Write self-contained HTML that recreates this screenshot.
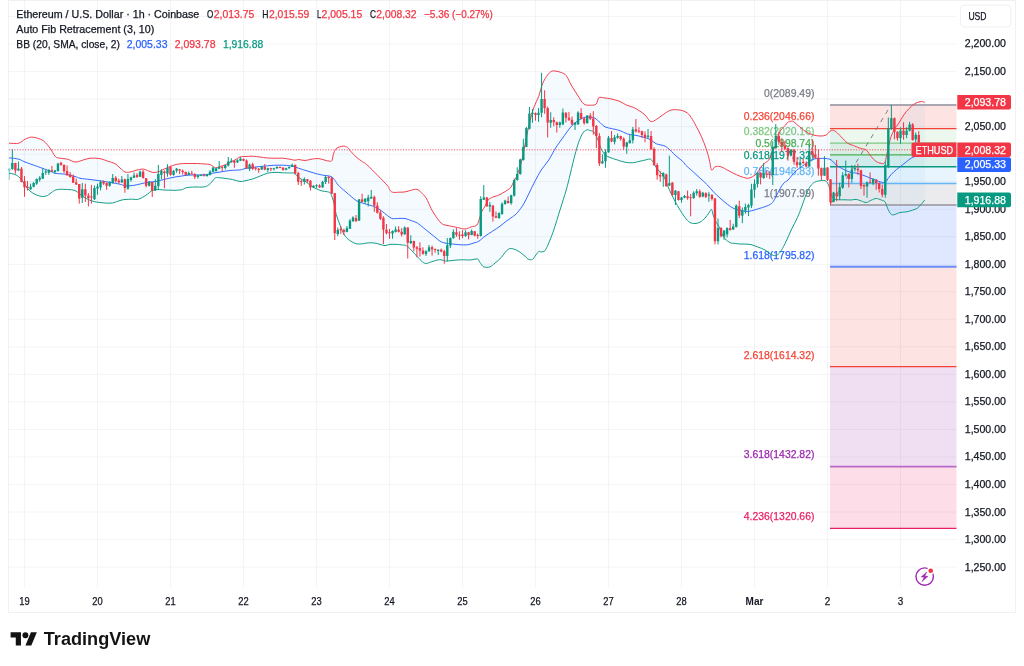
<!DOCTYPE html>
<html><head><meta charset="utf-8"><title>ETHUSD chart</title>
<style>
html,body{margin:0;padding:0;background:#fff;}
body{width:1024px;height:666px;overflow:hidden;position:relative;font-family:"Liberation Sans",sans-serif;}
svg text{font-family:"Liberation Sans",sans-serif;}
svg{will-change:transform;transform:translateZ(0);}
</style></head><body>
<svg width="1024" height="666" viewBox="0 0 1024 666" style="position:absolute;left:0;top:0;font-family:'Liberation Sans',sans-serif">
<rect x="8.5" y="0.5" width="1007" height="612" fill="none" stroke="#F0F1F3" stroke-width="1"/>
<g stroke="#F3F4F6" stroke-width="1"><line x1="24.5" y1="1" x2="24.5" y2="587.5"/><line x1="97.5" y1="1" x2="97.5" y2="587.5"/><line x1="170.5" y1="1" x2="170.5" y2="587.5"/><line x1="243.5" y1="1" x2="243.5" y2="587.5"/><line x1="316.5" y1="1" x2="316.5" y2="587.5"/><line x1="389.5" y1="1" x2="389.5" y2="587.5"/><line x1="462.5" y1="1" x2="462.5" y2="587.5"/><line x1="535.5" y1="1" x2="535.5" y2="587.5"/><line x1="608.5" y1="1" x2="608.5" y2="587.5"/><line x1="681.5" y1="1" x2="681.5" y2="587.5"/><line x1="754.5" y1="1" x2="754.5" y2="587.5"/><line x1="827.5" y1="1" x2="827.5" y2="587.5"/><line x1="900.5" y1="1" x2="900.5" y2="587.5"/><line x1="9" y1="16.46" x2="956.5" y2="16.46"/><line x1="9" y1="44.00" x2="956.5" y2="44.00"/><line x1="9" y1="71.53" x2="956.5" y2="71.53"/><line x1="9" y1="99.06" x2="956.5" y2="99.06"/><line x1="9" y1="126.60" x2="956.5" y2="126.60"/><line x1="9" y1="154.14" x2="956.5" y2="154.14"/><line x1="9" y1="181.67" x2="956.5" y2="181.67"/><line x1="9" y1="209.21" x2="956.5" y2="209.21"/><line x1="9" y1="236.74" x2="956.5" y2="236.74"/><line x1="9" y1="264.27" x2="956.5" y2="264.27"/><line x1="9" y1="291.81" x2="956.5" y2="291.81"/><line x1="9" y1="319.34" x2="956.5" y2="319.34"/><line x1="9" y1="346.88" x2="956.5" y2="346.88"/><line x1="9" y1="374.41" x2="956.5" y2="374.41"/><line x1="9" y1="401.95" x2="956.5" y2="401.95"/><line x1="9" y1="429.48" x2="956.5" y2="429.48"/><line x1="9" y1="457.02" x2="956.5" y2="457.02"/><line x1="9" y1="484.56" x2="956.5" y2="484.56"/><line x1="9" y1="512.09" x2="956.5" y2="512.09"/><line x1="9" y1="539.62" x2="956.5" y2="539.62"/><line x1="9" y1="567.16" x2="956.5" y2="567.16"/></g>
<rect x="830.0" y="104.86" width="126.5" height="23.59" fill="#F44336" fill-opacity="0.15"/>
<rect x="830.0" y="128.44" width="126.5" height="14.59" fill="#81C784" fill-opacity="0.15"/>
<rect x="830.0" y="143.04" width="126.5" height="11.80" fill="#4CAF50" fill-opacity="0.15"/>
<rect x="830.0" y="154.83" width="126.5" height="11.80" fill="#089981" fill-opacity="0.15"/>
<rect x="830.0" y="166.63" width="126.5" height="16.79" fill="#64B5F6" fill-opacity="0.15"/>
<rect x="830.0" y="183.42" width="126.5" height="21.39" fill="#787B86" fill-opacity="0.15"/>
<rect x="830.0" y="204.81" width="126.5" height="61.77" fill="#2962FF" fill-opacity="0.15"/>
<rect x="830.0" y="266.58" width="126.5" height="99.95" fill="#F44336" fill-opacity="0.15"/>
<rect x="830.0" y="366.53" width="126.5" height="99.95" fill="#9C27B0" fill-opacity="0.15"/>
<rect x="830.0" y="466.49" width="126.5" height="61.77" fill="#E91E63" fill-opacity="0.15"/>
<path d="M9.0 143.2 L18.8 143.2 L25.0 139.2 L31.2 137.1 L37.5 138.2 L43.8 141.1 L50.0 148.0 L55.0 156.1 L58.8 158.0 L67.5 159.2 L75.0 162.0 L82.5 160.2 L90.0 158.2 L100.0 158.6 L107.5 161.1 L115.0 163.6 L120.0 168.0 L125.0 172.0 L130.0 172.0 L136.2 170.2 L142.5 169.0 L147.5 170.5 L152.5 172.4 L157.5 172.0 L162.5 169.9 L170.0 166.5 L176.2 164.5 L182.5 163.6 L190.0 163.5 L197.5 163.5 L205.0 164.0 L210.0 164.5 L213.1 166.5 L215.6 167.8 L220.0 166.5 L225.0 164.9 L230.0 162.4 L235.0 159.9 L240.0 157.0 L245.0 156.5 L252.5 156.2 L260.0 157.0 L267.5 158.0 L275.0 158.2 L282.5 158.2 L290.0 159.2 L295.0 160.2 L298.8 159.5 L305.0 160.5 L312.5 159.0 L318.8 158.6 L325.0 160.2 L329.4 161.1 L331.9 160.5 L333.8 153.0 L336.2 148.6 L340.0 146.8 L343.8 146.1 L347.5 147.4 L351.2 151.8 L356.2 157.0 L362.5 161.8 L368.0 165.8 L386.9 185.0 L389.4 189.4 L392.5 192.2 L398.8 192.2 L405.0 191.9 L411.2 190.2 L416.9 189.4 L421.2 192.5 L426.2 198.1 L431.2 208.8 L436.2 216.9 L441.2 223.1 L445.0 225.0 L451.2 226.2 L457.5 227.5 L465.0 229.0 L471.2 226.9 L476.9 225.0 L479.4 218.8 L481.9 211.2 L485.0 206.2 L488.1 200.0 L492.5 197.2 L497.5 195.6 L502.5 193.1 L507.5 190.0 L511.2 186.9 L513.8 181.2 L516.9 176.2 L519.4 168.8 L521.9 160.0 L526.9 135.0 L530.0 121.2 L533.8 107.5 L538.8 96.2 L542.5 83.8 L547.5 75.0 L551.2 71.5 L555.0 71.0 L561.2 72.5 L566.2 75.6 L571.2 85.0 L577.5 95.0 L583.8 104.0 L591.2 105.2 L596.2 104.0 L598.8 97.8 L603.8 97.8 L611.2 99.0 L620.0 101.5 L626.2 105.0 L633.8 107.5 L640.0 111.2 L645.0 115.0 L650.0 121.0 L653.8 121.0 L660.0 116.9 L666.2 112.5 L671.2 110.0 L677.5 109.8 L682.5 110.6 L687.5 113.1 L691.2 117.5 L696.2 126.2 L701.2 136.2 L706.2 148.8 L709.4 160.0 L711.5 170.0 L715.0 166.9 L720.0 166.5 L726.2 169.4 L732.5 172.8 L740.0 176.2 L746.2 178.1 L750.0 177.8 L755.0 175.0 L758.8 170.6 L762.5 165.0 L768.8 160.0 L771.9 153.8 L775.6 145.0 L778.8 133.8 L782.5 128.1 L785.6 125.0 L787.5 122.5 L792.5 121.2 L797.5 125.0 L801.2 128.1 L806.2 131.9 L812.5 134.8 L820.0 136.0 L826.2 135.0 L830.0 131.2 L832.5 130.2 L836.2 131.9 L841.2 136.9 L847.5 143.1 L853.8 145.6 L855.0 146.2 L861.2 148.5 L866.2 150.0 L870.0 155.0 L875.0 160.6 L880.0 163.1 L884.4 163.1 L886.2 157.5 L888.8 145.0 L891.2 136.2 L894.4 129.4 L898.8 123.1 L903.8 115.0 L908.8 108.8 L913.8 104.4 L918.1 102.2 L921.9 101.5 L925.0 102.5 L924.8 200.0 L921.2 204.4 L917.5 208.1 L912.5 210.2 L906.2 211.9 L900.0 212.5 L893.8 214.8 L890.6 213.8 L887.5 208.1 L885.0 201.9 L881.2 200.0 L876.2 198.5 L871.2 200.2 L866.2 202.5 L861.2 201.0 L856.2 199.4 L851.2 200.0 L845.0 199.8 L838.8 199.8 L833.8 198.8 L831.2 195.0 L829.4 187.5 L827.5 182.8 L825.0 180.6 L821.2 180.6 L816.2 181.5 L812.5 183.8 L808.8 188.8 L805.0 197.5 L801.2 208.0 L797.5 217.5 L791.2 230.0 L786.2 241.2 L781.2 250.6 L777.5 254.8 L773.8 255.6 L770.0 253.8 L765.0 250.0 L757.5 246.9 L750.0 244.4 L740.0 244.0 L732.5 243.1 L731.2 243.1 L726.2 240.0 L722.5 235.0 L718.8 226.2 L715.6 221.2 L713.1 215.0 L711.5 209.4 L708.8 213.1 L705.0 218.1 L700.0 222.2 L695.0 223.5 L690.0 222.5 L685.0 217.5 L680.0 210.0 L675.0 201.2 L671.2 193.8 L667.5 185.6 L663.8 176.2 L660.0 171.9 L656.2 167.5 L652.5 161.2 L650.0 159.0 L646.2 159.8 L640.0 161.2 L632.5 162.8 L625.0 162.2 L617.5 160.0 L610.0 157.5 L605.0 154.8 L601.2 148.8 L597.5 138.8 L593.8 131.9 L590.0 130.6 L587.5 129.8 L583.8 131.9 L580.0 138.8 L576.9 148.0 L573.0 162.5 L570.0 175.0 L566.2 190.0 L560.0 210.0 L553.8 230.0 L548.8 243.0 L545.0 250.6 L541.2 251.9 L538.8 251.5 L535.0 256.2 L532.5 259.4 L528.8 259.4 L525.0 256.2 L521.2 253.1 L516.2 250.0 L511.2 248.5 L508.1 249.4 L505.0 252.5 L501.2 257.5 L495.0 263.1 L490.0 266.9 L483.8 266.9 L480.0 262.5 L477.5 259.0 L470.0 260.0 L462.5 259.8 L455.0 260.2 L447.5 261.0 L445.0 261.0 L441.2 259.8 L437.5 260.0 L431.2 261.9 L426.2 263.5 L422.5 261.9 L417.5 256.9 L411.2 250.0 L406.2 245.6 L402.5 245.0 L396.2 244.4 L390.0 244.4 L385.0 245.6 L380.0 244.4 L375.0 243.1 L368.8 242.8 L362.5 243.8 L356.2 243.8 L350.0 240.6 L344.4 235.0 L340.0 225.0 L336.2 214.4 L333.8 202.5 L331.2 194.4 L330.6 193.0 L327.5 191.8 L321.2 190.8 L316.2 188.6 L311.2 186.1 L306.2 182.0 L301.2 179.2 L297.5 176.1 L293.8 173.2 L290.0 173.0 L282.5 172.8 L275.0 172.4 L267.5 173.2 L260.0 176.1 L252.5 179.0 L245.0 180.8 L240.0 181.5 L232.5 179.5 L226.2 178.6 L220.0 177.8 L215.6 177.8 L212.5 181.1 L208.8 184.9 L203.8 187.0 L195.0 187.0 L186.2 187.8 L182.5 189.5 L177.5 190.2 L170.0 190.2 L162.5 189.9 L156.2 189.5 L151.2 191.1 L147.5 194.2 L142.5 197.4 L137.5 199.5 L132.5 199.2 L125.0 199.5 L120.0 200.5 L112.5 203.0 L105.0 203.0 L95.0 201.8 L87.5 199.2 L80.0 194.2 L75.0 190.5 L67.5 189.5 L57.5 189.5 L52.5 191.8 L47.5 195.5 L42.5 196.5 L36.2 194.9 L30.0 191.1 L25.0 184.9 L20.0 178.0 L15.0 174.5 L9.0 173.2 Z" fill="#2196F3" fill-opacity="0.05" stroke="none"/>
<line x1="830.0" y1="105.06" x2="956.5" y2="105.06" stroke="#A9A8B2" stroke-width="2.0"/>
<line x1="830.0" y1="128.54" x2="956.5" y2="128.54" stroke="#F44336" stroke-width="1.3"/>
<line x1="830.0" y1="143.14" x2="956.5" y2="143.14" stroke="#81C784" stroke-width="1.3"/>
<line x1="830.0" y1="154.93" x2="956.5" y2="154.93" stroke="#4CAF50" stroke-width="1.3"/>
<line x1="830.0" y1="166.73" x2="956.5" y2="166.73" stroke="#089981" stroke-width="1.3"/>
<line x1="830.0" y1="183.52" x2="956.5" y2="183.52" stroke="#64B5F6" stroke-width="1.3"/>
<line x1="830.0" y1="205.01" x2="956.5" y2="205.01" stroke="#A9A8B2" stroke-width="2.0"/>
<line x1="830.0" y1="266.78" x2="956.5" y2="266.78" stroke="#6C8CFA" stroke-width="2.0"/>
<line x1="830.0" y1="366.63" x2="956.5" y2="366.63" stroke="#F44336" stroke-width="1.3"/>
<line x1="830.0" y1="466.59" x2="956.5" y2="466.59" stroke="#BA68C8" stroke-width="1.8"/>
<line x1="830.0" y1="528.35" x2="956.5" y2="528.35" stroke="#E91E63" stroke-width="1.3"/>
<line x1="891" y1="105" x2="830.5" y2="204.5" stroke="#787B86" stroke-width="1" stroke-dasharray="4.5 5" stroke-dashoffset="3.7"/>
<text x="764.06" y="96.86" font-size="10.5" fill="#787B86" font-weight="normal" text-anchor="start" textLength="50.34" lengthAdjust="spacingAndGlyphs" stroke="#787B86" stroke-width="0.25">0(2089.49)</text>
<text x="743.80" y="120.44" font-size="10.5" fill="#F44336" font-weight="normal" text-anchor="start" textLength="70.60" lengthAdjust="spacingAndGlyphs" stroke="#F44336" stroke-width="0.25">0.236(2046.66)</text>
<text x="743.80" y="135.04" font-size="10.5" fill="#81C784" font-weight="normal" text-anchor="start" textLength="70.60" lengthAdjust="spacingAndGlyphs" stroke="#81C784" stroke-width="0.25">0.382(2020.16)</text>
<text x="755.38" y="146.83" font-size="10.5" fill="#4CAF50" font-weight="normal" text-anchor="start" textLength="59.02" lengthAdjust="spacingAndGlyphs" stroke="#4CAF50" stroke-width="0.25">0.5(1998.74)</text>
<text x="743.80" y="158.63" font-size="10.5" fill="#089981" font-weight="normal" text-anchor="start" textLength="70.60" lengthAdjust="spacingAndGlyphs" stroke="#089981" stroke-width="0.25">0.618(1977.32)</text>
<text x="743.80" y="175.42" font-size="10.5" fill="#64B5F6" font-weight="normal" text-anchor="start" textLength="70.60" lengthAdjust="spacingAndGlyphs" stroke="#64B5F6" stroke-width="0.25">0.786(1946.83)</text>
<text x="764.06" y="196.81" font-size="10.5" fill="#787B86" font-weight="normal" text-anchor="start" textLength="50.34" lengthAdjust="spacingAndGlyphs" stroke="#787B86" stroke-width="0.25">1(1907.99)</text>
<text x="743.80" y="258.58" font-size="10.5" fill="#2962FF" font-weight="normal" text-anchor="start" textLength="70.60" lengthAdjust="spacingAndGlyphs" stroke="#2962FF" stroke-width="0.25">1.618(1795.82)</text>
<text x="743.80" y="358.53" font-size="10.5" fill="#F44336" font-weight="normal" text-anchor="start" textLength="70.60" lengthAdjust="spacingAndGlyphs" stroke="#F44336" stroke-width="0.25">2.618(1614.32)</text>
<text x="743.80" y="458.49" font-size="10.5" fill="#9C27B0" font-weight="normal" text-anchor="start" textLength="70.60" lengthAdjust="spacingAndGlyphs" stroke="#9C27B0" stroke-width="0.25">3.618(1432.82)</text>
<text x="743.80" y="520.25" font-size="10.5" fill="#E91E63" font-weight="normal" text-anchor="start" textLength="70.60" lengthAdjust="spacingAndGlyphs" stroke="#E91E63" stroke-width="0.25">4.236(1320.66)</text>
<path d="M9.0 143.2 C10.6 143.2 16.1 143.9 18.8 143.2 C21.4 142.6 22.9 140.3 25.0 139.2 C27.1 138.2 29.2 137.3 31.2 137.1 C33.3 137.0 35.4 137.6 37.5 138.2 C39.6 138.9 41.7 139.5 43.8 141.1 C45.8 142.8 48.1 145.5 50.0 148.0 C51.9 150.5 53.5 154.5 55.0 156.1 C56.5 157.8 56.7 157.5 58.8 158.0 C60.8 158.5 64.8 158.6 67.5 159.2 C70.2 159.9 72.5 161.8 75.0 162.0 C77.5 162.2 80.0 160.9 82.5 160.2 C85.0 159.6 87.1 158.5 90.0 158.2 C92.9 158.0 97.1 158.1 100.0 158.6 C102.9 159.1 105.0 160.3 107.5 161.1 C110.0 162.0 112.9 162.5 115.0 163.6 C117.1 164.8 118.3 166.6 120.0 168.0 C121.7 169.4 123.3 171.3 125.0 172.0 C126.7 172.7 128.1 172.3 130.0 172.0 C131.9 171.7 134.2 170.8 136.2 170.2 C138.3 169.8 140.6 169.0 142.5 169.0 C144.4 169.0 145.8 169.9 147.5 170.5 C149.2 171.1 150.8 172.1 152.5 172.4 C154.2 172.6 155.8 172.4 157.5 172.0 C159.2 171.6 160.4 170.8 162.5 169.9 C164.6 169.0 167.7 167.4 170.0 166.5 C172.3 165.6 174.2 165.0 176.2 164.5 C178.3 164.0 180.2 163.8 182.5 163.6 C184.8 163.5 187.5 163.5 190.0 163.5 C192.5 163.5 195.0 163.4 197.5 163.5 C200.0 163.6 202.9 163.8 205.0 164.0 C207.1 164.2 208.6 164.1 210.0 164.5 C211.4 164.9 212.2 166.0 213.1 166.5 C214.1 167.0 214.5 167.8 215.6 167.8 C216.8 167.8 218.4 167.0 220.0 166.5 C221.6 166.0 223.3 165.6 225.0 164.9 C226.7 164.2 228.3 163.2 230.0 162.4 C231.7 161.5 233.3 160.8 235.0 159.9 C236.7 159.0 238.3 157.6 240.0 157.0 C241.7 156.4 242.9 156.6 245.0 156.5 C247.1 156.4 250.0 156.2 252.5 156.2 C255.0 156.3 257.5 156.7 260.0 157.0 C262.5 157.3 265.0 157.8 267.5 158.0 C270.0 158.2 272.5 158.2 275.0 158.2 C277.5 158.3 280.0 158.1 282.5 158.2 C285.0 158.4 287.9 158.9 290.0 159.2 C292.1 159.6 293.5 160.2 295.0 160.2 C296.5 160.3 297.1 159.5 298.8 159.5 C300.4 159.5 302.7 160.6 305.0 160.5 C307.3 160.4 310.2 159.3 312.5 159.0 C314.8 158.7 316.7 158.4 318.8 158.6 C320.8 158.8 323.2 159.8 325.0 160.2 C326.8 160.7 328.2 161.1 329.4 161.1 C330.5 161.2 331.1 161.9 331.9 160.5 C332.6 159.1 333.0 155.0 333.8 153.0 C334.5 151.0 335.2 149.7 336.2 148.6 C337.3 147.6 338.8 147.2 340.0 146.8 C341.2 146.3 342.5 146.0 343.8 146.1 C345.0 146.2 346.2 146.4 347.5 147.4 C348.8 148.3 349.8 150.1 351.2 151.8 C352.7 153.4 354.4 155.3 356.2 157.0 C358.1 158.7 360.5 160.3 362.5 161.8 C364.5 163.2 363.9 161.9 368.0 165.8 C372.1 169.6 383.3 181.1 386.9 185.0 C390.4 188.9 388.4 188.2 389.4 189.4 C390.3 190.6 390.9 191.8 392.5 192.2 C394.1 192.7 396.7 192.3 398.8 192.2 C400.8 192.2 402.9 192.2 405.0 191.9 C407.1 191.5 409.3 190.7 411.2 190.2 C413.2 189.8 415.2 189.0 416.9 189.4 C418.5 189.8 419.7 191.0 421.2 192.5 C422.8 194.0 424.6 195.4 426.2 198.1 C427.9 200.8 429.6 205.6 431.2 208.8 C432.9 211.9 434.6 214.5 436.2 216.9 C437.9 219.3 439.8 221.8 441.2 223.1 C442.7 224.5 443.3 224.5 445.0 225.0 C446.7 225.5 449.2 225.8 451.2 226.2 C453.3 226.7 455.2 227.0 457.5 227.5 C459.8 228.0 462.7 229.1 465.0 229.0 C467.3 228.9 469.3 227.5 471.2 226.9 C473.2 226.2 475.5 226.4 476.9 225.0 C478.2 223.6 478.5 221.0 479.4 218.8 C480.2 216.5 480.9 213.3 481.9 211.2 C482.8 209.2 484.0 208.1 485.0 206.2 C486.0 204.4 486.9 201.5 488.1 200.0 C489.4 198.5 490.9 198.0 492.5 197.2 C494.1 196.5 495.8 196.3 497.5 195.6 C499.2 194.9 500.8 194.1 502.5 193.1 C504.2 192.2 506.0 191.0 507.5 190.0 C509.0 189.0 510.2 188.3 511.2 186.9 C512.3 185.4 512.8 183.0 513.8 181.2 C514.7 179.5 515.9 178.3 516.9 176.2 C517.8 174.2 518.5 171.5 519.4 168.8 C520.2 166.0 520.6 165.6 521.9 160.0 C523.1 154.4 525.5 141.5 526.9 135.0 C528.2 128.5 528.9 125.8 530.0 121.2 C531.1 116.7 532.3 111.7 533.8 107.5 C535.2 103.3 537.3 100.2 538.8 96.2 C540.2 92.3 541.0 87.3 542.5 83.8 C544.0 80.2 546.0 77.0 547.5 75.0 C549.0 73.0 550.0 72.2 551.2 71.5 C552.5 70.8 553.3 70.8 555.0 71.0 C556.7 71.2 559.4 71.7 561.2 72.5 C563.1 73.3 564.6 73.5 566.2 75.6 C567.9 77.7 569.4 81.8 571.2 85.0 C573.1 88.2 575.4 91.8 577.5 95.0 C579.6 98.2 581.5 102.3 583.8 104.0 C586.0 105.7 589.2 105.2 591.2 105.2 C593.3 105.2 595.0 105.2 596.2 104.0 C597.5 102.8 597.5 98.8 598.8 97.8 C600.0 96.7 601.7 97.5 603.8 97.8 C605.8 98.0 608.5 98.4 611.2 99.0 C614.0 99.6 617.5 100.5 620.0 101.5 C622.5 102.5 624.0 104.0 626.2 105.0 C628.5 106.0 631.5 106.5 633.8 107.5 C636.0 108.5 638.1 110.0 640.0 111.2 C641.9 112.5 643.3 113.4 645.0 115.0 C646.7 116.6 648.5 120.0 650.0 121.0 C651.5 122.0 652.1 121.7 653.8 121.0 C655.4 120.3 657.9 118.3 660.0 116.9 C662.1 115.5 664.4 113.6 666.2 112.5 C668.1 111.4 669.4 110.5 671.2 110.0 C673.1 109.5 675.6 109.6 677.5 109.8 C679.4 109.9 680.8 110.1 682.5 110.6 C684.2 111.2 686.0 112.0 687.5 113.1 C689.0 114.3 689.8 115.3 691.2 117.5 C692.7 119.7 694.6 123.1 696.2 126.2 C697.9 129.4 699.6 132.5 701.2 136.2 C702.9 140.0 704.9 144.8 706.2 148.8 C707.6 152.7 708.5 156.5 709.4 160.0 C710.2 163.5 710.6 168.9 711.5 170.0 C712.4 171.1 713.6 167.5 715.0 166.9 C716.4 166.3 718.1 166.1 720.0 166.5 C721.9 166.9 724.2 168.3 726.2 169.4 C728.3 170.4 730.2 171.6 732.5 172.8 C734.8 173.9 737.7 175.4 740.0 176.2 C742.3 177.1 744.6 177.9 746.2 178.1 C747.9 178.4 748.5 178.3 750.0 177.8 C751.5 177.2 753.5 176.2 755.0 175.0 C756.5 173.8 757.5 172.3 758.8 170.6 C760.0 169.0 760.8 166.8 762.5 165.0 C764.2 163.2 767.2 161.9 768.8 160.0 C770.3 158.1 770.7 156.2 771.9 153.8 C773.0 151.2 774.5 148.3 775.6 145.0 C776.8 141.7 777.6 136.6 778.8 133.8 C779.9 130.9 781.4 129.6 782.5 128.1 C783.6 126.7 784.8 125.9 785.6 125.0 C786.5 124.1 786.4 123.1 787.5 122.5 C788.6 121.9 790.8 120.8 792.5 121.2 C794.2 121.7 796.0 123.9 797.5 125.0 C799.0 126.1 799.8 127.0 801.2 128.1 C802.7 129.3 804.4 130.8 806.2 131.9 C808.1 133.0 810.2 134.1 812.5 134.8 C814.8 135.4 817.7 136.0 820.0 136.0 C822.3 136.0 824.6 135.8 826.2 135.0 C827.9 134.2 829.0 132.0 830.0 131.2 C831.0 130.5 831.5 130.1 832.5 130.2 C833.5 130.4 834.8 130.8 836.2 131.9 C837.7 133.0 839.4 135.0 841.2 136.9 C843.1 138.8 845.4 141.7 847.5 143.1 C849.6 144.6 852.5 145.1 853.8 145.6 C855.0 146.1 853.8 145.8 855.0 146.2 C856.2 146.7 859.4 147.9 861.2 148.5 C863.1 149.1 864.8 148.9 866.2 150.0 C867.7 151.1 868.5 153.2 870.0 155.0 C871.5 156.8 873.3 159.3 875.0 160.6 C876.7 162.0 878.4 162.7 880.0 163.1 C881.6 163.5 883.3 164.1 884.4 163.1 C885.4 162.2 885.5 160.5 886.2 157.5 C887.0 154.5 887.9 148.5 888.8 145.0 C889.6 141.5 890.3 138.9 891.2 136.2 C892.2 133.6 893.1 131.6 894.4 129.4 C895.6 127.2 897.2 125.5 898.8 123.1 C900.3 120.7 902.1 117.4 903.8 115.0 C905.4 112.6 907.1 110.5 908.8 108.8 C910.4 107.0 912.2 105.5 913.8 104.4 C915.3 103.3 916.8 102.7 918.1 102.2 C919.5 101.8 920.7 101.5 921.9 101.5 C923.0 101.5 924.5 102.3 925.0 102.5" fill="none" stroke="#F23645" stroke-width="0.95"/>
<path d="M9.0 173.2 C10.0 173.5 13.2 173.7 15.0 174.5 C16.8 175.3 18.3 176.3 20.0 178.0 C21.7 179.7 23.3 182.7 25.0 184.9 C26.7 187.1 28.1 189.5 30.0 191.1 C31.9 192.8 34.2 194.0 36.2 194.9 C38.3 195.8 40.6 196.4 42.5 196.5 C44.4 196.6 45.8 196.3 47.5 195.5 C49.2 194.7 50.8 192.8 52.5 191.8 C54.2 190.8 55.0 189.9 57.5 189.5 C60.0 189.1 64.6 189.3 67.5 189.5 C70.4 189.7 72.9 189.7 75.0 190.5 C77.1 191.3 77.9 192.8 80.0 194.2 C82.1 195.7 85.0 198.0 87.5 199.2 C90.0 200.5 92.1 201.1 95.0 201.8 C97.9 202.4 102.1 202.8 105.0 203.0 C107.9 203.2 110.0 203.4 112.5 203.0 C115.0 202.6 117.9 201.1 120.0 200.5 C122.1 199.9 122.9 199.7 125.0 199.5 C127.1 199.3 130.4 199.2 132.5 199.2 C134.6 199.2 135.8 199.8 137.5 199.5 C139.2 199.2 140.8 198.2 142.5 197.4 C144.2 196.5 146.0 195.3 147.5 194.2 C149.0 193.2 149.8 191.9 151.2 191.1 C152.7 190.3 154.4 189.7 156.2 189.5 C158.1 189.3 160.2 189.8 162.5 189.9 C164.8 190.0 167.5 190.2 170.0 190.2 C172.5 190.3 175.4 190.4 177.5 190.2 C179.6 190.1 181.0 189.9 182.5 189.5 C184.0 189.1 184.2 188.2 186.2 187.8 C188.3 187.3 192.1 187.1 195.0 187.0 C197.9 186.9 201.5 187.4 203.8 187.0 C206.0 186.6 207.3 185.9 208.8 184.9 C210.2 183.9 211.4 182.3 212.5 181.1 C213.6 179.9 214.4 178.3 215.6 177.8 C216.9 177.2 218.2 177.6 220.0 177.8 C221.8 177.9 224.2 178.3 226.2 178.6 C228.3 178.9 230.2 179.0 232.5 179.5 C234.8 180.0 237.9 181.3 240.0 181.5 C242.1 181.7 242.9 181.2 245.0 180.8 C247.1 180.3 250.0 179.8 252.5 179.0 C255.0 178.2 257.5 177.1 260.0 176.1 C262.5 175.2 265.0 173.9 267.5 173.2 C270.0 172.6 272.5 172.5 275.0 172.4 C277.5 172.3 280.0 172.6 282.5 172.8 C285.0 172.9 288.1 172.9 290.0 173.0 C291.9 173.1 292.5 172.7 293.8 173.2 C295.0 173.8 296.2 175.1 297.5 176.1 C298.8 177.1 299.8 178.3 301.2 179.2 C302.7 180.2 304.6 180.9 306.2 182.0 C307.9 183.1 309.6 185.0 311.2 186.1 C312.9 187.2 314.6 187.9 316.2 188.6 C317.9 189.4 319.4 190.2 321.2 190.8 C323.1 191.3 325.9 191.4 327.5 191.8 C329.1 192.1 330.0 192.6 330.6 193.0 C331.2 193.4 330.7 192.8 331.2 194.4 C331.8 196.0 332.9 199.2 333.8 202.5 C334.6 205.8 335.2 210.6 336.2 214.4 C337.3 218.1 338.6 221.6 340.0 225.0 C341.4 228.4 342.7 232.4 344.4 235.0 C346.0 237.6 348.0 239.2 350.0 240.6 C352.0 242.1 354.2 243.2 356.2 243.8 C358.3 244.3 360.4 243.9 362.5 243.8 C364.6 243.6 366.7 242.9 368.8 242.8 C370.8 242.6 373.1 242.9 375.0 243.1 C376.9 243.4 378.3 244.0 380.0 244.4 C381.7 244.8 383.3 245.6 385.0 245.6 C386.7 245.6 388.1 244.6 390.0 244.4 C391.9 244.2 394.2 244.3 396.2 244.4 C398.3 244.5 400.8 244.8 402.5 245.0 C404.2 245.2 404.8 244.8 406.2 245.6 C407.7 246.5 409.4 248.1 411.2 250.0 C413.1 251.9 415.6 254.9 417.5 256.9 C419.4 258.9 421.0 260.8 422.5 261.9 C424.0 263.0 424.8 263.5 426.2 263.5 C427.7 263.5 429.4 262.5 431.2 261.9 C433.1 261.3 435.8 260.4 437.5 260.0 C439.2 259.6 440.0 259.6 441.2 259.8 C442.5 259.9 444.0 260.8 445.0 261.0 C446.0 261.2 445.8 261.1 447.5 261.0 C449.2 260.9 452.5 260.5 455.0 260.2 C457.5 260.0 460.0 259.8 462.5 259.8 C465.0 259.7 467.5 260.1 470.0 260.0 C472.5 259.9 475.8 258.6 477.5 259.0 C479.2 259.4 479.0 261.2 480.0 262.5 C481.0 263.8 482.1 266.1 483.8 266.9 C485.4 267.6 488.1 267.5 490.0 266.9 C491.9 266.2 493.1 264.7 495.0 263.1 C496.9 261.6 499.6 259.3 501.2 257.5 C502.9 255.7 503.9 253.9 505.0 252.5 C506.1 251.1 507.1 250.0 508.1 249.4 C509.2 248.7 509.9 248.4 511.2 248.5 C512.6 248.6 514.6 249.2 516.2 250.0 C517.9 250.8 519.8 252.1 521.2 253.1 C522.7 254.2 523.8 255.2 525.0 256.2 C526.2 257.3 527.5 258.9 528.8 259.4 C530.0 259.9 531.5 259.9 532.5 259.4 C533.5 258.9 534.0 257.6 535.0 256.2 C536.0 254.9 537.7 252.2 538.8 251.5 C539.8 250.8 540.2 252.0 541.2 251.9 C542.3 251.7 543.8 252.1 545.0 250.6 C546.2 249.1 547.3 246.4 548.8 243.0 C550.2 239.6 551.9 235.5 553.8 230.0 C555.6 224.5 557.9 216.7 560.0 210.0 C562.1 203.3 564.6 195.8 566.2 190.0 C567.9 184.2 568.9 179.6 570.0 175.0 C571.1 170.4 571.9 167.0 573.0 162.5 C574.1 158.0 575.7 152.0 576.9 148.0 C578.0 144.0 578.9 141.4 580.0 138.8 C581.1 136.1 582.5 133.4 583.8 131.9 C585.0 130.4 586.5 130.0 587.5 129.8 C588.5 129.5 589.0 130.3 590.0 130.6 C591.0 131.0 592.5 130.5 593.8 131.9 C595.0 133.2 596.2 135.9 597.5 138.8 C598.8 141.6 600.0 146.1 601.2 148.8 C602.5 151.4 603.5 153.3 605.0 154.8 C606.5 156.2 607.9 156.6 610.0 157.5 C612.1 158.4 615.0 159.2 617.5 160.0 C620.0 160.8 622.5 161.8 625.0 162.2 C627.5 162.7 630.0 162.9 632.5 162.8 C635.0 162.6 637.7 161.8 640.0 161.2 C642.3 160.8 644.6 160.1 646.2 159.8 C647.9 159.4 649.0 158.8 650.0 159.0 C651.0 159.2 651.5 159.8 652.5 161.2 C653.5 162.7 655.0 165.7 656.2 167.5 C657.5 169.3 658.8 170.4 660.0 171.9 C661.2 173.3 662.5 174.0 663.8 176.2 C665.0 178.5 666.2 182.7 667.5 185.6 C668.8 188.5 670.0 191.1 671.2 193.8 C672.5 196.4 673.5 198.5 675.0 201.2 C676.5 204.0 678.3 207.3 680.0 210.0 C681.7 212.7 683.3 215.4 685.0 217.5 C686.7 219.6 688.3 221.5 690.0 222.5 C691.7 223.5 693.3 223.5 695.0 223.5 C696.7 223.5 698.3 223.1 700.0 222.2 C701.7 221.4 703.5 219.6 705.0 218.1 C706.5 216.6 707.7 214.6 708.8 213.1 C709.8 211.7 710.8 209.1 711.5 209.4 C712.2 209.7 712.4 213.0 713.1 215.0 C713.8 217.0 714.7 219.4 715.6 221.2 C716.6 223.1 717.6 224.0 718.8 226.2 C719.9 228.5 721.2 232.7 722.5 235.0 C723.8 237.3 724.8 238.6 726.2 240.0 C727.7 241.4 730.2 242.6 731.2 243.1 C732.3 243.6 731.0 243.0 732.5 243.1 C734.0 243.3 737.1 243.8 740.0 244.0 C742.9 244.2 747.1 243.9 750.0 244.4 C752.9 244.9 755.0 245.9 757.5 246.9 C760.0 247.8 762.9 248.9 765.0 250.0 C767.1 251.1 768.5 252.8 770.0 253.8 C771.5 254.7 772.5 255.5 773.8 255.6 C775.0 255.8 776.2 255.6 777.5 254.8 C778.8 253.9 779.8 252.9 781.2 250.6 C782.7 248.4 784.6 244.7 786.2 241.2 C787.9 237.8 789.4 234.0 791.2 230.0 C793.1 226.0 795.8 221.2 797.5 217.5 C799.2 213.8 800.0 211.3 801.2 208.0 C802.5 204.7 803.8 200.7 805.0 197.5 C806.2 194.3 807.5 191.0 808.8 188.8 C810.0 186.5 811.2 185.0 812.5 183.8 C813.8 182.5 814.8 182.0 816.2 181.5 C817.7 181.0 819.8 180.8 821.2 180.6 C822.7 180.5 824.0 180.3 825.0 180.6 C826.0 181.0 826.8 181.6 827.5 182.8 C828.2 183.9 828.8 185.5 829.4 187.5 C830.0 189.5 830.5 193.1 831.2 195.0 C832.0 196.9 832.5 198.0 833.8 198.8 C835.0 199.5 836.9 199.6 838.8 199.8 C840.6 199.9 842.9 199.7 845.0 199.8 C847.1 199.8 849.4 200.1 851.2 200.0 C853.1 199.9 854.6 199.2 856.2 199.4 C857.9 199.5 859.6 200.5 861.2 201.0 C862.9 201.5 864.6 202.6 866.2 202.5 C867.9 202.4 869.6 200.9 871.2 200.2 C872.9 199.6 874.6 198.5 876.2 198.5 C877.9 198.5 879.8 199.4 881.2 200.0 C882.7 200.6 884.0 200.5 885.0 201.9 C886.0 203.2 886.6 206.1 887.5 208.1 C888.4 210.1 889.6 212.6 890.6 213.8 C891.7 214.9 892.2 215.0 893.8 214.8 C895.3 214.5 897.9 213.0 900.0 212.5 C902.1 212.0 904.2 212.2 906.2 211.9 C908.3 211.5 910.6 210.9 912.5 210.2 C914.4 209.6 916.0 209.1 917.5 208.1 C919.0 207.1 920.0 205.7 921.2 204.4 C922.5 203.0 924.2 200.7 924.8 200.0" fill="none" stroke="#089981" stroke-width="0.95"/>
<path d="M9.0 157.8 C10.6 158.0 16.1 158.5 18.8 159.2 C21.4 160.0 21.9 160.8 25.0 162.0 C28.1 163.2 33.3 165.0 37.5 166.5 C41.7 168.0 47.1 170.0 50.0 171.1 C52.9 172.2 52.5 172.7 55.0 173.2 C57.5 173.8 61.7 173.7 65.0 174.2 C68.3 174.8 72.5 175.8 75.0 176.5 C77.5 177.2 77.5 177.8 80.0 178.2 C82.5 178.8 86.7 179.1 90.0 179.5 C93.3 179.9 96.7 180.3 100.0 180.8 C103.3 181.2 106.7 181.8 110.0 182.4 C113.3 183.0 117.5 183.7 120.0 184.2 C122.5 184.8 123.3 185.5 125.0 185.8 C126.7 186.0 128.1 185.9 130.0 185.8 C131.9 185.6 133.8 185.4 136.2 184.9 C138.8 184.4 142.3 183.3 145.0 182.8 C147.7 182.2 150.4 182.0 152.5 181.8 C154.6 181.5 155.4 181.5 157.5 181.1 C159.6 180.7 162.1 179.9 165.0 179.2 C167.9 178.6 171.7 177.6 175.0 177.0 C178.3 176.4 181.7 175.9 185.0 175.5 C188.3 175.1 191.7 175.0 195.0 174.9 C198.3 174.8 202.1 175.1 205.0 174.9 C207.9 174.6 210.0 173.7 212.5 173.2 C215.0 172.8 217.1 172.5 220.0 172.0 C222.9 171.5 226.7 170.9 230.0 170.5 C233.3 170.1 237.5 170.2 240.0 169.9 C242.5 169.6 242.9 169.0 245.0 168.6 C247.1 168.2 250.0 167.7 252.5 167.4 C255.0 167.0 257.5 166.8 260.0 166.5 C262.5 166.2 265.0 166.0 267.5 165.8 C270.0 165.5 272.5 165.3 275.0 165.2 C277.5 165.2 280.0 165.2 282.5 165.2 C285.0 165.3 287.9 165.5 290.0 165.8 C292.1 166.0 292.9 166.4 295.0 167.0 C297.1 167.6 300.0 168.7 302.5 169.5 C305.0 170.3 307.5 171.0 310.0 171.8 C312.5 172.5 315.0 173.4 317.5 174.0 C320.0 174.6 322.7 175.1 325.0 175.5 C327.3 175.9 329.6 175.7 331.2 176.5 C332.9 177.3 333.9 179.1 335.0 180.5 C336.1 181.9 336.5 183.2 338.1 185.0 C339.8 186.8 342.8 189.3 345.0 191.2 C347.2 193.2 349.4 194.9 351.2 196.5 C353.1 198.1 354.4 199.5 356.2 200.6 C358.1 201.7 360.2 202.4 362.5 203.1 C364.8 203.9 367.7 204.5 370.0 205.2 C372.3 206.0 374.4 206.6 376.2 207.5 C378.1 208.4 379.4 209.3 381.2 210.6 C383.1 212.0 385.7 214.3 387.5 215.6 C389.3 216.9 390.2 218.0 391.9 218.5 C393.5 219.0 395.3 218.5 397.5 218.5 C399.7 218.5 402.7 218.1 405.0 218.5 C407.3 218.9 409.2 219.9 411.2 220.6 C413.3 221.4 415.4 221.9 417.5 223.1 C419.6 224.4 421.7 226.5 423.8 228.1 C425.8 229.8 427.9 231.5 430.0 233.1 C432.1 234.8 434.6 236.8 436.2 238.1 C437.9 239.5 438.5 240.4 440.0 241.2 C441.5 242.1 442.9 242.7 445.0 243.1 C447.1 243.6 450.0 243.7 452.5 244.0 C455.0 244.3 457.5 244.6 460.0 244.8 C462.5 244.9 465.2 245.0 467.5 244.8 C469.8 244.5 471.9 243.6 473.8 243.0 C475.6 242.4 476.9 242.4 478.8 241.2 C480.6 240.1 482.7 237.9 485.0 236.2 C487.3 234.6 490.0 232.9 492.5 231.2 C495.0 229.6 497.7 227.9 500.0 226.2 C502.3 224.6 504.2 222.8 506.2 221.2 C508.3 219.7 510.6 218.3 512.5 216.9 C514.4 215.4 515.6 214.7 517.5 212.5 C519.4 210.3 521.9 206.9 523.8 203.8 C525.6 200.6 526.9 197.5 528.8 193.8 C530.6 190.0 532.9 185.2 535.0 181.2 C537.1 177.3 539.0 173.5 541.2 170.0 C543.5 166.5 546.4 163.7 548.8 160.0 C551.1 156.3 553.5 151.3 555.6 148.0 C557.7 144.7 559.3 142.8 561.2 140.0 C563.2 137.2 565.6 133.8 567.5 131.2 C569.4 128.8 570.8 126.7 572.5 125.0 C574.2 123.3 575.8 122.1 577.5 121.0 C579.2 119.9 580.8 118.8 582.5 118.1 C584.2 117.4 585.8 117.0 587.5 116.9 C589.2 116.8 591.2 117.3 592.5 117.5 C593.8 117.7 593.8 117.3 595.0 118.1 C596.2 119.0 598.3 121.0 600.0 122.5 C601.7 124.0 602.9 125.8 605.0 126.9 C607.1 127.9 610.0 128.1 612.5 128.8 C615.0 129.4 617.5 129.8 620.0 130.6 C622.5 131.5 625.0 133.2 627.5 134.0 C630.0 134.8 632.5 134.8 635.0 135.2 C637.5 135.7 640.0 136.2 642.5 136.9 C645.0 137.6 647.7 138.2 650.0 139.4 C652.3 140.5 654.0 142.7 656.2 143.8 C658.5 144.8 661.7 144.8 663.8 145.6 C665.8 146.5 666.9 147.2 668.8 148.8 C670.6 150.3 672.7 152.9 675.0 155.0 C677.3 157.1 680.7 159.6 682.5 161.2 C684.3 162.9 684.0 163.3 685.6 165.0 C687.3 166.7 690.1 169.1 692.5 171.2 C694.9 173.4 697.5 175.8 700.0 178.1 C702.5 180.4 705.2 182.6 707.5 185.0 C709.8 187.4 711.7 190.1 713.8 192.2 C715.8 194.4 717.7 196.1 720.0 198.1 C722.3 200.1 725.2 202.6 727.5 204.4 C729.8 206.1 731.7 207.5 733.8 208.5 C735.8 209.5 737.7 209.8 740.0 210.2 C742.3 210.8 745.0 211.6 747.5 211.5 C750.0 211.4 752.5 210.4 755.0 209.8 C757.5 209.1 760.2 208.2 762.5 207.5 C764.8 206.8 767.1 206.1 768.8 205.2 C770.4 204.4 771.2 204.0 772.5 202.5 C773.8 201.0 775.0 198.5 776.2 196.2 C777.5 194.0 778.8 190.9 780.0 188.8 C781.2 186.6 782.4 184.6 783.8 183.1 C785.1 181.7 786.1 181.9 788.0 180.0 C789.9 178.1 792.8 174.1 795.0 171.9 C797.2 169.7 799.2 168.4 801.2 166.9 C803.3 165.3 805.6 163.8 807.5 162.5 C809.4 161.2 810.6 160.0 812.5 159.4 C814.4 158.7 816.5 158.6 818.8 158.5 C821.0 158.4 824.2 158.2 826.2 158.5 C828.3 158.8 829.6 158.9 831.2 160.0 C832.9 161.1 834.4 163.5 836.2 165.0 C838.1 166.5 840.2 167.5 842.5 168.8 C844.8 170.0 847.7 171.5 850.0 172.2 C852.3 173.0 854.2 172.7 856.2 173.1 C858.3 173.6 860.4 174.3 862.5 175.0 C864.6 175.7 866.7 176.7 868.8 177.5 C870.8 178.3 872.9 179.2 875.0 180.0 C877.1 180.8 879.5 181.9 881.2 182.2 C883.0 182.6 884.4 182.7 885.6 181.9 C886.9 181.1 887.4 179.2 888.8 177.5 C890.1 175.8 891.9 173.6 893.8 171.9 C895.6 170.1 897.9 168.5 900.0 166.9 C902.1 165.2 904.4 163.3 906.2 161.9 C908.1 160.4 909.9 159.0 911.2 158.1 C912.6 157.3 913.9 157.1 914.4 156.9" fill="none" stroke="#2962FF" stroke-width="0.95"/>
<line x1="9" y1="149.75" x2="956.5" y2="149.75" stroke="#F23645" stroke-width="1.7" stroke-dasharray="1.2 1.48" opacity="0.55"/>
<g fill="#089981" opacity="0.5"><rect x="8.79" y="168.62" width="1" height="11.25"/><rect x="8.09" y="168.62" width="2.4" height="1.88"/></g><g fill="#089981"><rect x="11.83" y="149.25" width="1" height="20.62"/><rect x="11.13" y="163.00" width="2.4" height="6.00"/></g><g fill="#F23645"><rect x="14.88" y="162.75" width="1" height="10.88"/><rect x="14.18" y="163.00" width="2.4" height="7.50"/></g><g fill="#089981"><rect x="17.92" y="161.50" width="1" height="9.25"/><rect x="17.22" y="168.62" width="2.4" height="1.88"/></g><g fill="#F23645"><rect x="20.96" y="167.00" width="1" height="15.38"/><rect x="20.26" y="168.62" width="2.4" height="13.12"/></g><g fill="#F23645"><rect x="24.00" y="176.12" width="1" height="20.62"/><rect x="23.30" y="181.12" width="2.4" height="6.25"/></g><g fill="#F23645"><rect x="27.04" y="181.12" width="1" height="9.38"/><rect x="26.34" y="186.75" width="2.4" height="1.25"/></g><g fill="#089981"><rect x="30.08" y="183.62" width="1" height="6.25"/><rect x="29.38" y="186.75" width="2.4" height="2.50"/></g><g fill="#089981"><rect x="33.12" y="182.00" width="1" height="5.38"/><rect x="32.42" y="183.00" width="2.4" height="3.75"/></g><g fill="#089981"><rect x="36.17" y="178.62" width="1" height="6.25"/><rect x="35.47" y="179.00" width="2.4" height="4.62"/></g><g fill="#089981"><rect x="39.21" y="176.12" width="1" height="5.62"/><rect x="38.51" y="177.75" width="2.4" height="1.75"/></g><g fill="#089981"><rect x="42.25" y="168.62" width="1" height="10.38"/><rect x="41.55" y="173.00" width="2.4" height="5.62"/></g><g fill="#089981"><rect x="45.29" y="169.88" width="1" height="5.00"/><rect x="44.59" y="171.50" width="2.4" height="1.00"/></g><g fill="#089981"><rect x="48.33" y="169.25" width="1" height="5.62"/><rect x="47.63" y="169.88" width="2.4" height="2.88"/></g><g fill="#F23645"><rect x="51.38" y="165.88" width="1" height="6.12"/><rect x="50.67" y="170.25" width="2.4" height="1.50"/></g><g fill="#089981"><rect x="54.42" y="169.88" width="1" height="4.12"/><rect x="53.72" y="170.50" width="2.4" height="1.50"/></g><g fill="#089981"><rect x="57.46" y="162.75" width="1" height="8.75"/><rect x="56.76" y="163.62" width="2.4" height="7.50"/></g><g fill="#F23645"><rect x="60.50" y="161.75" width="1" height="4.00"/><rect x="59.80" y="162.75" width="2.4" height="2.12"/></g><g fill="#F23645"><rect x="63.54" y="164.50" width="1" height="8.50"/><rect x="62.84" y="164.88" width="2.4" height="6.25"/></g><g fill="#F23645"><rect x="66.58" y="165.50" width="1" height="10.25"/><rect x="65.88" y="171.12" width="2.4" height="4.12"/></g><g fill="#F23645"><rect x="69.62" y="172.00" width="1" height="5.75"/><rect x="68.92" y="174.50" width="2.4" height="2.50"/></g><g fill="#F23645"><rect x="72.67" y="174.50" width="1" height="8.50"/><rect x="71.97" y="176.50" width="2.4" height="6.25"/></g><g fill="#F23645"><rect x="75.71" y="178.62" width="1" height="6.25"/><rect x="75.01" y="182.38" width="2.4" height="2.12"/></g><g fill="#F23645"><rect x="78.75" y="184.00" width="1" height="19.62"/><rect x="78.05" y="184.00" width="2.4" height="14.62"/></g><g fill="#089981"><rect x="81.79" y="183.00" width="1" height="20.00"/><rect x="81.09" y="189.25" width="2.4" height="8.50"/></g><g fill="#F23645"><rect x="84.83" y="183.62" width="1" height="18.38"/><rect x="84.13" y="189.25" width="2.4" height="6.25"/></g><g fill="#F23645"><rect x="87.88" y="193.00" width="1" height="13.50"/><rect x="87.17" y="195.50" width="2.4" height="2.50"/></g><g fill="#F23645"><rect x="90.92" y="184.88" width="1" height="18.75"/><rect x="90.22" y="196.50" width="2.4" height="1.00"/></g><g fill="#089981"><rect x="93.96" y="185.50" width="1" height="14.38"/><rect x="93.26" y="188.00" width="2.4" height="11.25"/></g><g fill="#089981"><rect x="97.00" y="183.62" width="1" height="11.25"/><rect x="96.30" y="186.50" width="2.4" height="2.12"/></g><g fill="#089981"><rect x="100.04" y="180.50" width="1" height="10.00"/><rect x="99.34" y="181.75" width="2.4" height="5.62"/></g><g fill="#F23645"><rect x="103.08" y="180.50" width="1" height="4.38"/><rect x="102.38" y="181.50" width="2.4" height="2.12"/></g><g fill="#F23645"><rect x="106.12" y="182.38" width="1" height="7.50"/><rect x="105.42" y="183.00" width="2.4" height="2.75"/></g><g fill="#089981"><rect x="109.17" y="181.12" width="1" height="5.62"/><rect x="108.47" y="182.38" width="2.4" height="3.38"/></g><g fill="#089981"><rect x="112.21" y="174.00" width="1" height="9.62"/><rect x="111.51" y="178.00" width="2.4" height="5.00"/></g><g fill="#F23645"><rect x="115.25" y="176.12" width="1" height="6.62"/><rect x="114.55" y="177.75" width="2.4" height="3.38"/></g><g fill="#F23645"><rect x="118.29" y="178.62" width="1" height="5.00"/><rect x="117.59" y="180.50" width="2.4" height="1.88"/></g><g fill="#089981"><rect x="121.33" y="176.12" width="1" height="6.88"/><rect x="120.63" y="179.50" width="2.4" height="2.88"/></g><g fill="#F23645"><rect x="124.38" y="178.62" width="1" height="14.12"/><rect x="123.67" y="179.25" width="2.4" height="8.75"/></g><g fill="#089981"><rect x="127.42" y="174.00" width="1" height="15.88"/><rect x="126.72" y="179.00" width="2.4" height="9.62"/></g><g fill="#089981"><rect x="130.46" y="176.75" width="1" height="5.00"/><rect x="129.76" y="177.38" width="2.4" height="2.50"/></g><g fill="#089981"><rect x="133.50" y="172.38" width="1" height="5.62"/><rect x="132.80" y="175.50" width="2.4" height="2.25"/></g><g fill="#F23645"><rect x="136.54" y="173.25" width="1" height="4.75"/><rect x="135.84" y="174.88" width="2.4" height="2.12"/></g><g fill="#089981"><rect x="139.58" y="170.50" width="1" height="6.50"/><rect x="138.88" y="171.75" width="2.4" height="5.00"/></g><g fill="#F23645"><rect x="142.62" y="169.88" width="1" height="8.75"/><rect x="141.93" y="171.75" width="2.4" height="6.25"/></g><g fill="#F23645"><rect x="145.67" y="178.00" width="1" height="9.38"/><rect x="144.97" y="178.25" width="2.4" height="7.50"/></g><g fill="#089981"><rect x="148.71" y="181.12" width="1" height="5.38"/><rect x="148.01" y="181.75" width="2.4" height="4.00"/></g><g fill="#F23645"><rect x="151.75" y="181.75" width="1" height="15.25"/><rect x="151.05" y="182.00" width="2.4" height="8.75"/></g><g fill="#089981"><rect x="154.79" y="179.25" width="1" height="11.88"/><rect x="154.09" y="185.75" width="2.4" height="4.75"/></g><g fill="#089981"><rect x="157.83" y="164.88" width="1" height="25.00"/><rect x="157.13" y="174.00" width="2.4" height="12.12"/></g><g fill="#089981"><rect x="160.88" y="169.25" width="1" height="10.00"/><rect x="160.18" y="171.12" width="2.4" height="3.75"/></g><g fill="#F23645"><rect x="163.92" y="170.50" width="1" height="17.75"/><rect x="163.22" y="171.50" width="2.4" height="1.50"/></g><g fill="#089981"><rect x="166.96" y="164.25" width="1" height="12.50"/><rect x="166.26" y="167.75" width="2.4" height="5.88"/></g><g fill="#F23645"><rect x="170.00" y="166.12" width="1" height="9.62"/><rect x="169.30" y="167.00" width="2.4" height="7.88"/></g><g fill="#089981"><rect x="173.04" y="170.25" width="1" height="5.50"/><rect x="172.34" y="170.75" width="2.4" height="4.12"/></g><g fill="#089981"><rect x="176.08" y="168.00" width="1" height="4.75"/><rect x="175.38" y="168.75" width="2.4" height="2.00"/></g><g fill="#F23645"><rect x="179.12" y="169.00" width="1" height="5.00"/><rect x="178.43" y="169.25" width="2.4" height="1.25"/></g><g fill="#F23645"><rect x="182.17" y="169.50" width="1" height="5.00"/><rect x="181.47" y="170.75" width="2.4" height="1.25"/></g><g fill="#F23645"><rect x="185.21" y="171.50" width="1" height="4.25"/><rect x="184.51" y="172.00" width="2.4" height="2.88"/></g><g fill="#089981"><rect x="188.25" y="171.50" width="1" height="3.50"/><rect x="187.55" y="173.00" width="2.4" height="1.88"/></g><g fill="#F23645"><rect x="191.29" y="170.75" width="1" height="3.50"/><rect x="190.59" y="173.25" width="2.4" height="1.00"/></g><g fill="#F23645"><rect x="194.33" y="173.25" width="1" height="5.75"/><rect x="193.63" y="174.00" width="2.4" height="3.00"/></g><g fill="#089981"><rect x="197.38" y="174.88" width="1" height="3.75"/><rect x="196.68" y="175.25" width="2.4" height="1.75"/></g><g fill="#089981"><rect x="200.42" y="174.25" width="1" height="1.88"/><rect x="199.72" y="174.75" width="2.4" height="1.00"/></g><g fill="#F23645"><rect x="203.46" y="173.62" width="1" height="2.88"/><rect x="202.76" y="174.75" width="2.4" height="1.00"/></g><g fill="#089981"><rect x="206.50" y="174.00" width="1" height="2.75"/><rect x="205.80" y="174.50" width="2.4" height="1.50"/></g><g fill="#089981"><rect x="209.54" y="170.25" width="1" height="5.25"/><rect x="208.84" y="171.50" width="2.4" height="3.38"/></g><g fill="#089981"><rect x="212.58" y="166.75" width="1" height="5.62"/><rect x="211.88" y="167.75" width="2.4" height="4.00"/></g><g fill="#089981"><rect x="215.62" y="167.75" width="1" height="3.75"/><rect x="214.93" y="168.25" width="2.4" height="2.88"/></g><g fill="#089981"><rect x="218.67" y="161.12" width="1" height="7.88"/><rect x="217.97" y="167.00" width="2.4" height="1.75"/></g><g fill="#F23645"><rect x="221.71" y="166.12" width="1" height="5.00"/><rect x="221.01" y="166.75" width="2.4" height="1.00"/></g><g fill="#089981"><rect x="224.75" y="164.88" width="1" height="4.62"/><rect x="224.05" y="165.25" width="2.4" height="2.75"/></g><g fill="#089981"><rect x="227.79" y="157.00" width="1" height="9.50"/><rect x="227.09" y="161.50" width="2.4" height="4.00"/></g><g fill="#089981"><rect x="230.83" y="158.25" width="1" height="4.50"/><rect x="230.13" y="160.75" width="2.4" height="1.25"/></g><g fill="#F23645"><rect x="233.88" y="159.88" width="1" height="7.88"/><rect x="233.18" y="160.75" width="2.4" height="2.00"/></g><g fill="#089981"><rect x="236.92" y="159.25" width="1" height="3.75"/><rect x="236.22" y="160.25" width="2.4" height="2.12"/></g><g fill="#089981"><rect x="239.96" y="157.38" width="1" height="3.75"/><rect x="239.26" y="158.62" width="2.4" height="2.12"/></g><g fill="#F23645"><rect x="243.00" y="158.50" width="1" height="2.75"/><rect x="242.30" y="159.00" width="2.4" height="1.75"/></g><g fill="#F23645"><rect x="246.04" y="159.50" width="1" height="9.12"/><rect x="245.34" y="160.50" width="2.4" height="7.75"/></g><g fill="#089981"><rect x="249.08" y="163.62" width="1" height="7.50"/><rect x="248.38" y="164.50" width="2.4" height="4.50"/></g><g fill="#F23645"><rect x="252.12" y="162.75" width="1" height="7.12"/><rect x="251.43" y="164.25" width="2.4" height="4.75"/></g><g fill="#F23645"><rect x="255.17" y="166.75" width="1" height="3.75"/><rect x="254.47" y="167.75" width="2.4" height="1.00"/></g><g fill="#F23645"><rect x="258.21" y="168.00" width="1" height="4.75"/><rect x="257.51" y="168.75" width="2.4" height="1.25"/></g><g fill="#089981"><rect x="261.25" y="166.12" width="1" height="3.75"/><rect x="260.55" y="166.75" width="2.4" height="2.75"/></g><g fill="#F23645"><rect x="264.29" y="164.00" width="1" height="6.25"/><rect x="263.59" y="166.75" width="2.4" height="2.75"/></g><g fill="#089981"><rect x="267.33" y="167.75" width="1" height="4.25"/><rect x="266.63" y="168.25" width="2.4" height="1.62"/></g><g fill="#F23645"><rect x="270.38" y="167.75" width="1" height="3.38"/><rect x="269.68" y="168.25" width="2.4" height="1.00"/></g><g fill="#089981"><rect x="273.42" y="167.75" width="1" height="2.75"/><rect x="272.72" y="168.25" width="2.4" height="1.00"/></g><g fill="#089981"><rect x="276.46" y="166.12" width="1" height="2.88"/><rect x="275.76" y="167.00" width="2.4" height="1.25"/></g><g fill="#F23645"><rect x="279.50" y="166.50" width="1" height="1.75"/><rect x="278.80" y="167.00" width="2.4" height="1.00"/></g><g fill="#F23645"><rect x="282.54" y="167.00" width="1" height="3.75"/><rect x="281.84" y="167.75" width="2.4" height="2.12"/></g><g fill="#089981"><rect x="285.58" y="167.75" width="1" height="2.50"/><rect x="284.88" y="168.25" width="2.4" height="1.62"/></g><g fill="#089981"><rect x="288.62" y="166.50" width="1" height="2.25"/><rect x="287.93" y="167.00" width="2.4" height="1.25"/></g><g fill="#089981"><rect x="291.67" y="163.62" width="1" height="3.38"/><rect x="290.97" y="164.88" width="2.4" height="1.88"/></g><g fill="#F23645"><rect x="294.71" y="164.50" width="1" height="9.50"/><rect x="294.01" y="164.88" width="2.4" height="8.38"/></g><g fill="#F23645"><rect x="297.75" y="171.75" width="1" height="13.12"/><rect x="297.05" y="173.00" width="2.4" height="8.75"/></g><g fill="#F23645"><rect x="300.79" y="179.50" width="1" height="6.25"/><rect x="300.09" y="181.12" width="2.4" height="1.00"/></g><g fill="#089981"><rect x="303.83" y="177.38" width="1" height="7.12"/><rect x="303.13" y="179.00" width="2.4" height="2.75"/></g><g fill="#F23645"><rect x="306.88" y="179.00" width="1" height="3.75"/><rect x="306.18" y="179.25" width="2.4" height="1.88"/></g><g fill="#F23645"><rect x="309.92" y="180.25" width="1" height="10.25"/><rect x="309.22" y="180.75" width="2.4" height="6.62"/></g><g fill="#089981"><rect x="312.96" y="185.25" width="1" height="2.75"/><rect x="312.26" y="185.75" width="2.4" height="1.62"/></g><g fill="#089981"><rect x="316.00" y="184.25" width="1" height="3.50"/><rect x="315.30" y="185.25" width="2.4" height="1.00"/></g><g fill="#F23645"><rect x="319.04" y="184.25" width="1" height="3.50"/><rect x="318.34" y="185.50" width="2.4" height="1.88"/></g><g fill="#089981"><rect x="322.08" y="180.75" width="1" height="7.00"/><rect x="321.38" y="181.75" width="2.4" height="5.62"/></g><g fill="#089981"><rect x="325.12" y="175.75" width="1" height="8.25"/><rect x="324.43" y="177.00" width="2.4" height="5.00"/></g><g fill="#F23645"><rect x="328.17" y="176.12" width="1" height="7.50"/><rect x="327.47" y="177.00" width="2.4" height="1.00"/></g><g fill="#F23645"><rect x="331.21" y="177.00" width="1" height="17.00"/><rect x="330.51" y="177.75" width="2.4" height="15.88"/></g><g fill="#F23645"><rect x="334.25" y="193.12" width="1" height="46.88"/><rect x="333.55" y="193.12" width="2.4" height="40.00"/></g><g fill="#089981"><rect x="337.29" y="227.50" width="1" height="8.75"/><rect x="336.59" y="229.75" width="2.4" height="4.25"/></g><g fill="#F23645"><rect x="340.33" y="226.25" width="1" height="7.75"/><rect x="339.63" y="229.00" width="2.4" height="1.25"/></g><g fill="#F23645"><rect x="343.38" y="228.75" width="1" height="6.25"/><rect x="342.68" y="230.00" width="2.4" height="1.88"/></g><g fill="#089981"><rect x="346.42" y="226.00" width="1" height="6.25"/><rect x="345.72" y="228.12" width="2.4" height="3.75"/></g><g fill="#089981"><rect x="349.46" y="219.00" width="1" height="10.00"/><rect x="348.76" y="220.62" width="2.4" height="8.12"/></g><g fill="#089981"><rect x="352.50" y="216.25" width="1" height="5.62"/><rect x="351.80" y="217.50" width="2.4" height="3.75"/></g><g fill="#F23645"><rect x="355.54" y="215.00" width="1" height="6.88"/><rect x="354.84" y="218.12" width="2.4" height="3.12"/></g><g fill="#089981"><rect x="358.58" y="199.00" width="1" height="22.00"/><rect x="357.88" y="199.38" width="2.4" height="21.25"/></g><g fill="#F23645"><rect x="361.62" y="193.75" width="1" height="8.75"/><rect x="360.93" y="199.38" width="2.4" height="2.50"/></g><g fill="#089981"><rect x="364.67" y="198.12" width="1" height="5.62"/><rect x="363.97" y="198.75" width="2.4" height="3.12"/></g><g fill="#089981"><rect x="367.71" y="194.75" width="1" height="11.75"/><rect x="367.01" y="197.50" width="2.4" height="3.75"/></g><g fill="#089981"><rect x="370.75" y="190.00" width="1" height="9.00"/><rect x="370.05" y="196.88" width="2.4" height="1.62"/></g><g fill="#F23645"><rect x="373.79" y="195.62" width="1" height="16.25"/><rect x="373.09" y="196.88" width="2.4" height="8.75"/></g><g fill="#F23645"><rect x="376.83" y="202.25" width="1" height="11.25"/><rect x="376.13" y="205.62" width="2.4" height="7.12"/></g><g fill="#F23645"><rect x="379.88" y="210.00" width="1" height="10.00"/><rect x="379.18" y="212.50" width="2.4" height="6.25"/></g><g fill="#F23645"><rect x="382.92" y="216.25" width="1" height="27.75"/><rect x="382.22" y="217.75" width="2.4" height="12.00"/></g><g fill="#F23645"><rect x="385.96" y="224.00" width="1" height="10.38"/><rect x="385.26" y="229.75" width="2.4" height="3.38"/></g><g fill="#F23645"><rect x="389.00" y="229.00" width="1" height="9.75"/><rect x="388.30" y="232.25" width="2.4" height="1.00"/></g><g fill="#089981"><rect x="392.04" y="230.25" width="1" height="8.50"/><rect x="391.34" y="231.00" width="2.4" height="2.50"/></g><g fill="#089981"><rect x="395.08" y="226.50" width="1" height="6.00"/><rect x="394.38" y="229.38" width="2.4" height="2.50"/></g><g fill="#F23645"><rect x="398.12" y="226.25" width="1" height="6.25"/><rect x="397.43" y="229.75" width="2.4" height="2.12"/></g><g fill="#F23645"><rect x="401.17" y="228.12" width="1" height="8.38"/><rect x="400.47" y="231.88" width="2.4" height="2.50"/></g><g fill="#089981"><rect x="404.21" y="226.50" width="1" height="8.25"/><rect x="403.51" y="227.50" width="2.4" height="6.88"/></g><g fill="#F23645"><rect x="407.25" y="227.50" width="1" height="31.00"/><rect x="406.55" y="227.50" width="2.4" height="15.25"/></g><g fill="#089981"><rect x="410.29" y="235.25" width="1" height="8.75"/><rect x="409.59" y="241.00" width="2.4" height="2.12"/></g><g fill="#F23645"><rect x="413.33" y="240.62" width="1" height="10.62"/><rect x="412.63" y="241.00" width="2.4" height="6.50"/></g><g fill="#F23645"><rect x="416.38" y="246.00" width="1" height="11.25"/><rect x="415.68" y="247.25" width="2.4" height="1.50"/></g><g fill="#F23645"><rect x="419.42" y="242.25" width="1" height="14.25"/><rect x="418.72" y="248.12" width="2.4" height="2.50"/></g><g fill="#F23645"><rect x="422.46" y="247.25" width="1" height="7.50"/><rect x="421.76" y="250.62" width="2.4" height="3.12"/></g><g fill="#089981"><rect x="425.50" y="250.25" width="1" height="5.75"/><rect x="424.80" y="251.25" width="2.4" height="2.75"/></g><g fill="#089981"><rect x="428.54" y="245.00" width="1" height="6.88"/><rect x="427.84" y="247.25" width="2.4" height="4.00"/></g><g fill="#F23645"><rect x="431.58" y="245.62" width="1" height="10.00"/><rect x="430.88" y="247.25" width="2.4" height="2.12"/></g><g fill="#F23645"><rect x="434.62" y="248.50" width="1" height="4.25"/><rect x="433.93" y="249.00" width="2.4" height="1.00"/></g><g fill="#089981"><rect x="437.67" y="249.38" width="1" height="5.62"/><rect x="436.97" y="249.75" width="2.4" height="1.25"/></g><g fill="#F23645"><rect x="440.71" y="248.50" width="1" height="3.75"/><rect x="440.01" y="249.75" width="2.4" height="1.75"/></g><g fill="#F23645"><rect x="443.75" y="249.75" width="1" height="14.00"/><rect x="443.05" y="251.25" width="2.4" height="4.75"/></g><g fill="#089981"><rect x="446.79" y="238.12" width="1" height="23.38"/><rect x="446.09" y="245.25" width="2.4" height="10.75"/></g><g fill="#089981"><rect x="449.83" y="237.50" width="1" height="10.62"/><rect x="449.13" y="238.12" width="2.4" height="7.50"/></g><g fill="#089981"><rect x="452.88" y="229.38" width="1" height="9.38"/><rect x="452.18" y="231.88" width="2.4" height="6.25"/></g><g fill="#F23645"><rect x="455.92" y="228.12" width="1" height="8.75"/><rect x="455.22" y="232.25" width="2.4" height="2.50"/></g><g fill="#F23645"><rect x="458.96" y="231.25" width="1" height="8.50"/><rect x="458.26" y="234.75" width="2.4" height="1.00"/></g><g fill="#F23645"><rect x="462.00" y="230.25" width="1" height="7.88"/><rect x="461.30" y="234.38" width="2.4" height="1.62"/></g><g fill="#089981"><rect x="465.04" y="230.25" width="1" height="6.62"/><rect x="464.34" y="232.25" width="2.4" height="3.75"/></g><g fill="#F23645"><rect x="468.08" y="231.88" width="1" height="7.50"/><rect x="467.38" y="232.25" width="2.4" height="3.00"/></g><g fill="#089981"><rect x="471.12" y="229.38" width="1" height="5.88"/><rect x="470.43" y="231.00" width="2.4" height="4.00"/></g><g fill="#F23645"><rect x="474.17" y="231.00" width="1" height="5.25"/><rect x="473.47" y="231.25" width="2.4" height="4.38"/></g><g fill="#F23645"><rect x="477.21" y="233.50" width="1" height="5.25"/><rect x="476.51" y="235.00" width="2.4" height="1.00"/></g><g fill="#089981"><rect x="480.25" y="196.25" width="1" height="40.25"/><rect x="479.55" y="199.00" width="2.4" height="37.00"/></g><g fill="#089981"><rect x="483.29" y="185.00" width="1" height="15.00"/><rect x="482.59" y="197.50" width="2.4" height="2.25"/></g><g fill="#F23645"><rect x="486.33" y="196.88" width="1" height="10.00"/><rect x="485.63" y="197.50" width="2.4" height="8.75"/></g><g fill="#089981"><rect x="489.38" y="201.88" width="1" height="10.00"/><rect x="488.68" y="204.75" width="2.4" height="1.75"/></g><g fill="#F23645"><rect x="492.42" y="205.00" width="1" height="16.50"/><rect x="491.72" y="205.62" width="2.4" height="10.88"/></g><g fill="#F23645"><rect x="495.46" y="211.50" width="1" height="6.62"/><rect x="494.76" y="216.25" width="2.4" height="1.50"/></g><g fill="#089981"><rect x="498.50" y="212.25" width="1" height="6.50"/><rect x="497.80" y="213.12" width="2.4" height="5.00"/></g><g fill="#089981"><rect x="501.54" y="202.50" width="1" height="12.25"/><rect x="500.84" y="203.75" width="2.4" height="10.25"/></g><g fill="#089981"><rect x="504.58" y="199.75" width="1" height="5.00"/><rect x="503.88" y="200.62" width="2.4" height="3.38"/></g><g fill="#F23645"><rect x="507.62" y="196.50" width="1" height="7.00"/><rect x="506.93" y="201.00" width="2.4" height="2.12"/></g><g fill="#089981"><rect x="510.67" y="194.75" width="1" height="10.00"/><rect x="509.97" y="195.25" width="2.4" height="7.88"/></g><g fill="#089981"><rect x="513.71" y="178.50" width="1" height="18.00"/><rect x="513.01" y="180.00" width="2.4" height="15.62"/></g><g fill="#089981"><rect x="516.75" y="167.25" width="1" height="13.38"/><rect x="516.05" y="174.00" width="2.4" height="6.00"/></g><g fill="#089981"><rect x="519.79" y="158.75" width="1" height="16.00"/><rect x="519.09" y="159.38" width="2.4" height="14.62"/></g><g fill="#089981"><rect x="522.83" y="138.75" width="1" height="21.88"/><rect x="522.13" y="146.88" width="2.4" height="13.12"/></g><g fill="#089981"><rect x="525.88" y="126.88" width="1" height="20.38"/><rect x="525.17" y="128.12" width="2.4" height="18.75"/></g><g fill="#089981"><rect x="528.92" y="106.88" width="1" height="22.50"/><rect x="528.22" y="113.50" width="2.4" height="15.25"/></g><g fill="#089981"><rect x="531.96" y="109.00" width="1" height="13.75"/><rect x="531.26" y="112.75" width="2.4" height="1.25"/></g><g fill="#F23645"><rect x="535.00" y="112.50" width="1" height="8.12"/><rect x="534.30" y="113.12" width="2.4" height="1.88"/></g><g fill="#089981"><rect x="538.04" y="108.12" width="1" height="13.75"/><rect x="537.34" y="112.75" width="2.4" height="2.25"/></g><g fill="#089981"><rect x="541.08" y="72.75" width="1" height="44.50"/><rect x="540.38" y="99.00" width="2.4" height="13.75"/></g><g fill="#F23645"><rect x="544.12" y="90.25" width="1" height="23.50"/><rect x="543.42" y="99.00" width="2.4" height="9.12"/></g><g fill="#F23645"><rect x="547.17" y="106.50" width="1" height="31.00"/><rect x="546.47" y="108.12" width="2.4" height="14.38"/></g><g fill="#089981"><rect x="550.21" y="112.25" width="1" height="15.50"/><rect x="549.51" y="120.00" width="2.4" height="2.75"/></g><g fill="#F23645"><rect x="553.25" y="117.25" width="1" height="9.00"/><rect x="552.55" y="120.00" width="2.4" height="2.25"/></g><g fill="#F23645"><rect x="556.29" y="121.50" width="1" height="11.00"/><rect x="555.59" y="122.25" width="2.4" height="2.75"/></g><g fill="#089981"><rect x="559.33" y="121.50" width="1" height="6.25"/><rect x="558.63" y="122.50" width="2.4" height="2.50"/></g><g fill="#089981"><rect x="562.38" y="108.50" width="1" height="16.75"/><rect x="561.67" y="112.50" width="2.4" height="11.88"/></g><g fill="#F23645"><rect x="565.42" y="112.25" width="1" height="10.25"/><rect x="564.72" y="112.75" width="2.4" height="5.00"/></g><g fill="#F23645"><rect x="568.46" y="111.88" width="1" height="9.12"/><rect x="567.76" y="117.75" width="2.4" height="2.00"/></g><g fill="#F23645"><rect x="571.50" y="116.50" width="1" height="8.50"/><rect x="570.80" y="119.75" width="2.4" height="4.62"/></g><g fill="#089981"><rect x="574.54" y="122.25" width="1" height="7.75"/><rect x="573.84" y="122.75" width="2.4" height="2.00"/></g><g fill="#089981"><rect x="577.58" y="111.25" width="1" height="13.50"/><rect x="576.88" y="112.50" width="2.4" height="11.88"/></g><g fill="#F23645"><rect x="580.62" y="108.12" width="1" height="11.25"/><rect x="579.92" y="113.12" width="2.4" height="5.62"/></g><g fill="#F23645"><rect x="583.67" y="117.50" width="1" height="7.25"/><rect x="582.97" y="118.50" width="2.4" height="4.62"/></g><g fill="#089981"><rect x="586.71" y="115.00" width="1" height="8.75"/><rect x="586.01" y="115.62" width="2.4" height="7.50"/></g><g fill="#F23645"><rect x="589.75" y="113.12" width="1" height="6.88"/><rect x="589.05" y="115.62" width="2.4" height="3.12"/></g><g fill="#F23645"><rect x="592.79" y="111.25" width="1" height="23.50"/><rect x="592.09" y="118.50" width="2.4" height="8.00"/></g><g fill="#F23645"><rect x="595.83" y="125.00" width="1" height="23.12"/><rect x="595.13" y="126.00" width="2.4" height="10.00"/></g><g fill="#F23645"><rect x="598.88" y="133.12" width="1" height="32.88"/><rect x="598.17" y="136.00" width="2.4" height="27.50"/></g><g fill="#089981"><rect x="601.92" y="154.38" width="1" height="9.38"/><rect x="601.22" y="161.25" width="2.4" height="2.25"/></g><g fill="#089981"><rect x="604.96" y="149.38" width="1" height="18.38"/><rect x="604.26" y="151.88" width="2.4" height="9.38"/></g><g fill="#089981"><rect x="608.00" y="136.00" width="1" height="16.75"/><rect x="607.30" y="137.75" width="2.4" height="14.50"/></g><g fill="#F23645"><rect x="611.04" y="131.00" width="1" height="11.25"/><rect x="610.34" y="138.12" width="2.4" height="3.38"/></g><g fill="#089981"><rect x="614.08" y="135.00" width="1" height="9.38"/><rect x="613.38" y="137.25" width="2.4" height="4.62"/></g><g fill="#089981"><rect x="617.12" y="133.50" width="1" height="5.25"/><rect x="616.42" y="136.00" width="2.4" height="1.75"/></g><g fill="#F23645"><rect x="620.17" y="135.62" width="1" height="5.00"/><rect x="619.47" y="136.00" width="2.4" height="3.00"/></g><g fill="#F23645"><rect x="623.21" y="137.25" width="1" height="12.50"/><rect x="622.51" y="138.75" width="2.4" height="7.75"/></g><g fill="#089981"><rect x="626.25" y="141.88" width="1" height="11.88"/><rect x="625.55" y="142.50" width="2.4" height="4.38"/></g><g fill="#089981"><rect x="629.29" y="135.00" width="1" height="8.50"/><rect x="628.59" y="140.25" width="2.4" height="2.88"/></g><g fill="#089981"><rect x="632.33" y="126.88" width="1" height="16.62"/><rect x="631.63" y="129.38" width="2.4" height="10.88"/></g><g fill="#F23645"><rect x="635.38" y="119.00" width="1" height="13.50"/><rect x="634.67" y="129.38" width="2.4" height="2.12"/></g><g fill="#F23645"><rect x="638.42" y="127.25" width="1" height="5.88"/><rect x="637.72" y="130.62" width="2.4" height="1.00"/></g><g fill="#F23645"><rect x="641.46" y="130.62" width="1" height="7.50"/><rect x="640.76" y="131.25" width="2.4" height="3.75"/></g><g fill="#F23645"><rect x="644.50" y="131.25" width="1" height="11.00"/><rect x="643.80" y="134.75" width="2.4" height="2.50"/></g><g fill="#089981"><rect x="647.54" y="129.00" width="1" height="9.50"/><rect x="646.84" y="135.62" width="2.4" height="1.25"/></g><g fill="#F23645"><rect x="650.58" y="131.00" width="1" height="18.75"/><rect x="649.88" y="136.00" width="2.4" height="13.38"/></g><g fill="#F23645"><rect x="653.62" y="147.25" width="1" height="18.38"/><rect x="652.92" y="149.00" width="2.4" height="16.25"/></g><g fill="#F23645"><rect x="656.67" y="163.12" width="1" height="16.62"/><rect x="655.97" y="165.00" width="2.4" height="10.25"/></g><g fill="#F23645"><rect x="659.71" y="171.25" width="1" height="10.62"/><rect x="659.01" y="175.00" width="2.4" height="1.50"/></g><g fill="#089981"><rect x="662.75" y="172.25" width="1" height="14.62"/><rect x="662.05" y="173.12" width="2.4" height="3.38"/></g><g fill="#F23645"><rect x="665.79" y="173.75" width="1" height="13.12"/><rect x="665.09" y="174.38" width="2.4" height="11.62"/></g><g fill="#089981"><rect x="668.83" y="155.62" width="1" height="30.38"/><rect x="668.13" y="183.12" width="2.4" height="2.50"/></g><g fill="#F23645"><rect x="671.88" y="182.25" width="1" height="13.38"/><rect x="671.17" y="182.50" width="2.4" height="12.50"/></g><g fill="#089981"><rect x="674.92" y="190.00" width="1" height="15.00"/><rect x="674.22" y="190.62" width="2.4" height="4.38"/></g><g fill="#F23645"><rect x="677.96" y="191.00" width="1" height="9.62"/><rect x="677.26" y="191.25" width="2.4" height="8.75"/></g><g fill="#089981"><rect x="681.00" y="196.88" width="1" height="5.88"/><rect x="680.30" y="197.50" width="2.4" height="2.50"/></g><g fill="#089981"><rect x="684.04" y="195.00" width="1" height="3.12"/><rect x="683.34" y="196.00" width="2.4" height="1.75"/></g><g fill="#F23645"><rect x="687.08" y="190.62" width="1" height="9.12"/><rect x="686.38" y="196.25" width="2.4" height="1.88"/></g><g fill="#F23645"><rect x="690.12" y="194.00" width="1" height="22.25"/><rect x="689.42" y="197.25" width="2.4" height="1.00"/></g><g fill="#089981"><rect x="693.17" y="191.25" width="1" height="7.50"/><rect x="692.47" y="192.75" width="2.4" height="5.38"/></g><g fill="#089981"><rect x="696.21" y="189.00" width="1" height="6.62"/><rect x="695.51" y="191.25" width="2.4" height="1.88"/></g><g fill="#F23645"><rect x="699.25" y="189.38" width="1" height="8.38"/><rect x="698.55" y="191.25" width="2.4" height="5.62"/></g><g fill="#089981"><rect x="702.29" y="191.88" width="1" height="5.38"/><rect x="701.59" y="192.75" width="2.4" height="3.75"/></g><g fill="#F23645"><rect x="705.33" y="192.25" width="1" height="5.88"/><rect x="704.63" y="193.12" width="2.4" height="3.75"/></g><g fill="#089981"><rect x="708.38" y="191.88" width="1" height="10.00"/><rect x="707.67" y="194.38" width="2.4" height="1.25"/></g><g fill="#F23645"><rect x="711.42" y="194.00" width="1" height="6.62"/><rect x="710.72" y="195.00" width="2.4" height="4.00"/></g><g fill="#F23645"><rect x="714.46" y="198.12" width="1" height="46.25"/><rect x="713.76" y="198.50" width="2.4" height="42.75"/></g><g fill="#089981"><rect x="717.50" y="218.50" width="1" height="25.88"/><rect x="716.80" y="228.12" width="2.4" height="13.12"/></g><g fill="#F23645"><rect x="720.54" y="227.50" width="1" height="10.00"/><rect x="719.84" y="227.75" width="2.4" height="8.50"/></g><g fill="#089981"><rect x="723.58" y="230.00" width="1" height="9.75"/><rect x="722.88" y="230.62" width="2.4" height="5.88"/></g><g fill="#089981"><rect x="726.62" y="227.25" width="1" height="10.25"/><rect x="725.92" y="228.12" width="2.4" height="6.25"/></g><g fill="#F23645"><rect x="729.67" y="220.00" width="1" height="10.62"/><rect x="728.97" y="228.12" width="2.4" height="1.88"/></g><g fill="#089981"><rect x="732.71" y="223.75" width="1" height="6.25"/><rect x="732.01" y="226.50" width="2.4" height="2.88"/></g><g fill="#089981"><rect x="735.75" y="204.38" width="1" height="23.12"/><rect x="735.05" y="205.62" width="2.4" height="21.25"/></g><g fill="#F23645"><rect x="738.79" y="200.62" width="1" height="17.50"/><rect x="738.09" y="206.25" width="2.4" height="9.38"/></g><g fill="#089981"><rect x="741.83" y="207.50" width="1" height="15.62"/><rect x="741.13" y="210.25" width="2.4" height="5.38"/></g><g fill="#089981"><rect x="744.88" y="203.50" width="1" height="10.25"/><rect x="744.17" y="206.88" width="2.4" height="3.75"/></g><g fill="#089981"><rect x="747.92" y="203.75" width="1" height="12.25"/><rect x="747.22" y="205.00" width="2.4" height="2.50"/></g><g fill="#089981"><rect x="750.96" y="183.75" width="1" height="24.38"/><rect x="750.26" y="189.38" width="2.4" height="16.25"/></g><g fill="#089981"><rect x="754.00" y="179.38" width="1" height="18.38"/><rect x="753.30" y="183.75" width="2.4" height="6.00"/></g><g fill="#089981"><rect x="757.04" y="172.25" width="1" height="15.25"/><rect x="756.34" y="172.75" width="2.4" height="11.25"/></g><g fill="#F23645"><rect x="760.08" y="172.25" width="1" height="12.12"/><rect x="759.38" y="172.75" width="2.4" height="4.75"/></g><g fill="#089981"><rect x="763.12" y="163.12" width="1" height="15.62"/><rect x="762.42" y="173.12" width="2.4" height="5.00"/></g><g fill="#F23645"><rect x="766.17" y="170.62" width="1" height="7.12"/><rect x="765.47" y="173.50" width="2.4" height="1.00"/></g><g fill="#F23645"><rect x="769.21" y="171.25" width="1" height="7.75"/><rect x="768.51" y="173.75" width="2.4" height="1.00"/></g><g fill="#089981"><rect x="772.25" y="141.25" width="1" height="43.75"/><rect x="771.55" y="146.88" width="2.4" height="28.12"/></g><g fill="#089981"><rect x="775.29" y="124.00" width="1" height="24.75"/><rect x="774.59" y="136.00" width="2.4" height="12.12"/></g><g fill="#F23645"><rect x="778.33" y="131.88" width="1" height="12.88"/><rect x="777.63" y="136.00" width="2.4" height="5.88"/></g><g fill="#F23645"><rect x="781.38" y="138.12" width="1" height="13.75"/><rect x="780.67" y="141.88" width="2.4" height="3.75"/></g><g fill="#F23645"><rect x="784.42" y="141.25" width="1" height="8.75"/><rect x="783.72" y="145.62" width="2.4" height="3.12"/></g><g fill="#F23645"><rect x="787.46" y="147.50" width="1" height="13.12"/><rect x="786.76" y="148.12" width="2.4" height="7.50"/></g><g fill="#089981"><rect x="790.50" y="149.00" width="1" height="7.25"/><rect x="789.80" y="149.75" width="2.4" height="5.88"/></g><g fill="#F23645"><rect x="793.54" y="149.00" width="1" height="15.75"/><rect x="792.84" y="149.75" width="2.4" height="12.12"/></g><g fill="#F23645"><rect x="796.58" y="156.88" width="1" height="11.25"/><rect x="795.88" y="161.88" width="2.4" height="3.38"/></g><g fill="#089981"><rect x="799.62" y="158.50" width="1" height="9.62"/><rect x="798.92" y="162.50" width="2.4" height="2.50"/></g><g fill="#F23645"><rect x="802.67" y="158.75" width="1" height="5.00"/><rect x="801.97" y="161.88" width="2.4" height="1.25"/></g><g fill="#F23645"><rect x="805.71" y="161.25" width="1" height="6.00"/><rect x="805.01" y="163.12" width="2.4" height="3.38"/></g><g fill="#089981"><rect x="808.75" y="145.00" width="1" height="21.88"/><rect x="808.05" y="151.00" width="2.4" height="15.50"/></g><g fill="#F23645"><rect x="811.79" y="139.38" width="1" height="18.38"/><rect x="811.09" y="151.00" width="2.4" height="4.00"/></g><g fill="#F23645"><rect x="814.83" y="145.00" width="1" height="13.75"/><rect x="814.13" y="154.38" width="2.4" height="3.38"/></g><g fill="#F23645"><rect x="817.88" y="149.38" width="1" height="26.25"/><rect x="817.17" y="157.75" width="2.4" height="10.75"/></g><g fill="#F23645"><rect x="820.92" y="167.50" width="1" height="12.50"/><rect x="820.22" y="168.12" width="2.4" height="7.50"/></g><g fill="#089981"><rect x="823.96" y="156.25" width="1" height="19.75"/><rect x="823.26" y="167.75" width="2.4" height="7.88"/></g><g fill="#F23645"><rect x="827.00" y="167.25" width="1" height="13.75"/><rect x="826.30" y="167.50" width="2.4" height="12.25"/></g><g fill="#F23645"><rect x="830.04" y="179.00" width="1" height="26.00"/><rect x="829.34" y="179.38" width="2.4" height="22.88"/></g><g fill="#089981"><rect x="833.08" y="191.88" width="1" height="10.38"/><rect x="832.38" y="192.50" width="2.4" height="9.38"/></g><g fill="#F23645"><rect x="836.12" y="160.00" width="1" height="41.25"/><rect x="835.42" y="193.12" width="2.4" height="3.38"/></g><g fill="#089981"><rect x="839.17" y="182.75" width="1" height="17.25"/><rect x="838.47" y="187.25" width="2.4" height="9.00"/></g><g fill="#089981"><rect x="842.21" y="172.25" width="1" height="16.50"/><rect x="841.51" y="175.25" width="2.4" height="12.50"/></g><g fill="#089981"><rect x="845.25" y="160.62" width="1" height="15.88"/><rect x="844.55" y="174.00" width="2.4" height="1.62"/></g><g fill="#F23645"><rect x="848.29" y="173.12" width="1" height="14.38"/><rect x="847.59" y="174.00" width="2.4" height="5.00"/></g><g fill="#089981"><rect x="851.33" y="165.00" width="1" height="17.75"/><rect x="850.63" y="169.75" width="2.4" height="9.25"/></g><g fill="#089981"><rect x="854.38" y="164.75" width="1" height="6.75"/><rect x="853.67" y="168.12" width="2.4" height="1.25"/></g><g fill="#F23645"><rect x="857.42" y="163.75" width="1" height="11.00"/><rect x="856.72" y="168.75" width="2.4" height="1.50"/></g><g fill="#F23645"><rect x="860.46" y="169.75" width="1" height="19.25"/><rect x="859.76" y="170.25" width="2.4" height="15.75"/></g><g fill="#F23645"><rect x="863.50" y="184.38" width="1" height="11.25"/><rect x="862.80" y="185.00" width="2.4" height="1.50"/></g><g fill="#089981"><rect x="866.54" y="181.50" width="1" height="16.25"/><rect x="865.84" y="182.25" width="2.4" height="4.25"/></g><g fill="#F23645"><rect x="869.58" y="172.25" width="1" height="11.25"/><rect x="868.88" y="181.88" width="2.4" height="1.00"/></g><g fill="#089981"><rect x="872.62" y="178.12" width="1" height="7.12"/><rect x="871.92" y="179.00" width="2.4" height="4.50"/></g><g fill="#F23645"><rect x="875.67" y="179.00" width="1" height="10.75"/><rect x="874.97" y="179.75" width="2.4" height="3.38"/></g><g fill="#F23645"><rect x="878.71" y="182.25" width="1" height="10.25"/><rect x="878.01" y="183.12" width="2.4" height="5.88"/></g><g fill="#F23645"><rect x="881.75" y="184.75" width="1" height="12.50"/><rect x="881.05" y="189.00" width="2.4" height="5.75"/></g><g fill="#089981"><rect x="884.79" y="161.88" width="1" height="35.88"/><rect x="884.09" y="165.00" width="2.4" height="29.75"/></g><g fill="#089981"><rect x="887.83" y="117.50" width="1" height="50.62"/><rect x="887.13" y="128.12" width="2.4" height="38.75"/></g><g fill="#089981"><rect x="890.88" y="105.00" width="1" height="25.00"/><rect x="890.17" y="118.12" width="2.4" height="10.62"/></g><g fill="#F23645"><rect x="893.92" y="117.50" width="1" height="21.88"/><rect x="893.22" y="118.12" width="2.4" height="13.75"/></g><g fill="#F23645"><rect x="896.96" y="131.25" width="1" height="9.38"/><rect x="896.26" y="131.88" width="2.4" height="6.25"/></g><g fill="#089981"><rect x="900.00" y="127.25" width="1" height="16.50"/><rect x="899.30" y="130.62" width="2.4" height="7.50"/></g><g fill="#F23645"><rect x="903.04" y="122.25" width="1" height="17.50"/><rect x="902.34" y="130.62" width="2.4" height="4.38"/></g><g fill="#089981"><rect x="906.08" y="127.25" width="1" height="10.88"/><rect x="905.38" y="130.62" width="2.4" height="4.38"/></g><g fill="#089981"><rect x="909.12" y="121.88" width="1" height="9.62"/><rect x="908.42" y="124.38" width="2.4" height="6.25"/></g><g fill="#F23645"><rect x="912.17" y="123.12" width="1" height="17.50"/><rect x="911.47" y="124.38" width="2.4" height="15.62"/></g><g fill="#089981"><rect x="915.21" y="132.50" width="1" height="9.75"/><rect x="914.51" y="134.75" width="2.4" height="4.62"/></g><g fill="#F23645"><rect x="918.25" y="131.25" width="1" height="11.50"/><rect x="917.55" y="135.00" width="2.4" height="7.50"/></g>

<text x="16.30" y="18.20" font-size="10.4" fill="#131722" font-weight="normal" text-anchor="start" textLength="183.00" lengthAdjust="spacingAndGlyphs" stroke="#131722" stroke-width="0.25">Ethereum / U.S. Dollar · 1h · Coinbase</text>
<text x="206.90" y="18.20" font-size="10.4" fill="#131722" font-weight="normal" text-anchor="start" textLength="6.30" lengthAdjust="spacingAndGlyphs" stroke="#131722" stroke-width="0.25">O</text>
<text x="213.75" y="18.20" font-size="10.4" fill="#F23645" font-weight="normal" text-anchor="start" textLength="40.60" lengthAdjust="spacingAndGlyphs" stroke="#F23645" stroke-width="0.25">2,013.75</text>
<text x="262.20" y="18.20" font-size="10.4" fill="#131722" font-weight="normal" text-anchor="start" textLength="6.20" lengthAdjust="spacingAndGlyphs" stroke="#131722" stroke-width="0.25">H</text>
<text x="269.00" y="18.20" font-size="10.4" fill="#F23645" font-weight="normal" text-anchor="start" textLength="40.20" lengthAdjust="spacingAndGlyphs" stroke="#F23645" stroke-width="0.25">2,015.59</text>
<text x="316.90" y="18.20" font-size="10.4" fill="#131722" font-weight="normal" text-anchor="start" textLength="4.30" lengthAdjust="spacingAndGlyphs" stroke="#131722" stroke-width="0.25">L</text>
<text x="321.60" y="18.20" font-size="10.4" fill="#F23645" font-weight="normal" text-anchor="start" textLength="40.60" lengthAdjust="spacingAndGlyphs" stroke="#F23645" stroke-width="0.25">2,005.15</text>
<text x="370.00" y="18.20" font-size="10.4" fill="#131722" font-weight="normal" text-anchor="start" textLength="6.00" lengthAdjust="spacingAndGlyphs" stroke="#131722" stroke-width="0.25">C</text>
<text x="376.30" y="18.20" font-size="10.4" fill="#F23645" font-weight="normal" text-anchor="start" textLength="40.20" lengthAdjust="spacingAndGlyphs" stroke="#F23645" stroke-width="0.25">2,008.32</text>
<text x="424.00" y="18.20" font-size="10.4" fill="#F23645" font-weight="normal" text-anchor="start" textLength="68.80" lengthAdjust="spacingAndGlyphs" stroke="#F23645" stroke-width="0.25">−5.36 (−0.27%)</text>
<text x="16.30" y="33.20" font-size="10.4" fill="#131722" font-weight="normal" text-anchor="start" textLength="138.00" lengthAdjust="spacingAndGlyphs" stroke="#131722" stroke-width="0.25">Auto Fib Retracement (3, 10)</text>
<text x="16.30" y="48.20" font-size="10.4" fill="#131722" font-weight="normal" text-anchor="start" textLength="103.70" lengthAdjust="spacingAndGlyphs" stroke="#131722" stroke-width="0.25">BB (20, SMA, close, 2)</text>
<text x="126.75" y="48.20" font-size="10.4" fill="#2962FF" font-weight="normal" text-anchor="start" textLength="40.75" lengthAdjust="spacingAndGlyphs" stroke="#2962FF" stroke-width="0.25">2,005.33</text>
<text x="174.75" y="48.20" font-size="10.4" fill="#F23645" font-weight="normal" text-anchor="start" textLength="40.75" lengthAdjust="spacingAndGlyphs" stroke="#F23645" stroke-width="0.25">2,093.78</text>
<text x="223.00" y="48.20" font-size="10.4" fill="#089981" font-weight="normal" text-anchor="start" textLength="40.20" lengthAdjust="spacingAndGlyphs" stroke="#089981" stroke-width="0.25">1,916.88</text>
<text x="964.75" y="47.40" font-size="10.4" fill="#131722" font-weight="normal" text-anchor="start" textLength="41.25" lengthAdjust="spacingAndGlyphs" stroke="#131722" stroke-width="0.25">2,200.00</text>
<text x="964.75" y="74.94" font-size="10.4" fill="#131722" font-weight="normal" text-anchor="start" textLength="41.25" lengthAdjust="spacingAndGlyphs" stroke="#131722" stroke-width="0.25">2,150.00</text>
<text x="964.75" y="130.00" font-size="10.4" fill="#131722" font-weight="normal" text-anchor="start" textLength="41.25" lengthAdjust="spacingAndGlyphs" stroke="#131722" stroke-width="0.25">2,050.00</text>
<text x="964.75" y="185.07" font-size="10.4" fill="#131722" font-weight="normal" text-anchor="start" textLength="41.25" lengthAdjust="spacingAndGlyphs" stroke="#131722" stroke-width="0.25">1,950.00</text>
<text x="964.75" y="212.61" font-size="10.4" fill="#131722" font-weight="normal" text-anchor="start" textLength="41.25" lengthAdjust="spacingAndGlyphs" stroke="#131722" stroke-width="0.25">1,900.00</text>
<text x="964.75" y="240.14" font-size="10.4" fill="#131722" font-weight="normal" text-anchor="start" textLength="41.25" lengthAdjust="spacingAndGlyphs" stroke="#131722" stroke-width="0.25">1,850.00</text>
<text x="964.75" y="267.68" font-size="10.4" fill="#131722" font-weight="normal" text-anchor="start" textLength="41.25" lengthAdjust="spacingAndGlyphs" stroke="#131722" stroke-width="0.25">1,800.00</text>
<text x="964.75" y="295.21" font-size="10.4" fill="#131722" font-weight="normal" text-anchor="start" textLength="41.25" lengthAdjust="spacingAndGlyphs" stroke="#131722" stroke-width="0.25">1,750.00</text>
<text x="964.75" y="322.75" font-size="10.4" fill="#131722" font-weight="normal" text-anchor="start" textLength="41.25" lengthAdjust="spacingAndGlyphs" stroke="#131722" stroke-width="0.25">1,700.00</text>
<text x="964.75" y="350.28" font-size="10.4" fill="#131722" font-weight="normal" text-anchor="start" textLength="41.25" lengthAdjust="spacingAndGlyphs" stroke="#131722" stroke-width="0.25">1,650.00</text>
<text x="964.75" y="377.82" font-size="10.4" fill="#131722" font-weight="normal" text-anchor="start" textLength="41.25" lengthAdjust="spacingAndGlyphs" stroke="#131722" stroke-width="0.25">1,600.00</text>
<text x="964.75" y="405.35" font-size="10.4" fill="#131722" font-weight="normal" text-anchor="start" textLength="41.25" lengthAdjust="spacingAndGlyphs" stroke="#131722" stroke-width="0.25">1,550.00</text>
<text x="964.75" y="432.89" font-size="10.4" fill="#131722" font-weight="normal" text-anchor="start" textLength="41.25" lengthAdjust="spacingAndGlyphs" stroke="#131722" stroke-width="0.25">1,500.00</text>
<text x="964.75" y="460.42" font-size="10.4" fill="#131722" font-weight="normal" text-anchor="start" textLength="41.25" lengthAdjust="spacingAndGlyphs" stroke="#131722" stroke-width="0.25">1,450.00</text>
<text x="964.75" y="487.96" font-size="10.4" fill="#131722" font-weight="normal" text-anchor="start" textLength="41.25" lengthAdjust="spacingAndGlyphs" stroke="#131722" stroke-width="0.25">1,400.00</text>
<text x="964.75" y="515.50" font-size="10.4" fill="#131722" font-weight="normal" text-anchor="start" textLength="41.25" lengthAdjust="spacingAndGlyphs" stroke="#131722" stroke-width="0.25">1,350.00</text>
<text x="964.75" y="543.03" font-size="10.4" fill="#131722" font-weight="normal" text-anchor="start" textLength="41.25" lengthAdjust="spacingAndGlyphs" stroke="#131722" stroke-width="0.25">1,300.00</text>
<text x="964.75" y="570.56" font-size="10.4" fill="#131722" font-weight="normal" text-anchor="start" textLength="41.25" lengthAdjust="spacingAndGlyphs" stroke="#131722" stroke-width="0.25">1,250.00</text>
<path d="M957.30 94.90 H1009.00 Q1011.00 94.90 1011.00 96.90 V107.60 Q1011.00 109.60 1009.00 109.60 H957.30 V94.90 Z" fill="#F23645"/>
<text x="964.75" y="106.05" font-size="10.4" fill="#fff" font-weight="normal" text-anchor="start" textLength="41.25" lengthAdjust="spacingAndGlyphs" stroke="#fff" stroke-width="0.25">2,093.78</text>
<path d="M957.30 192.50 H1009.00 Q1011.00 192.50 1011.00 194.50 V205.25 Q1011.00 207.25 1009.00 207.25 H957.30 V192.50 Z" fill="#089981"/>
<text x="964.75" y="203.70" font-size="10.4" fill="#fff" font-weight="normal" text-anchor="start" textLength="41.25" lengthAdjust="spacingAndGlyphs" stroke="#fff" stroke-width="0.25">1,916.88</text>
<path d="M957.30 157.25 H1009.00 Q1011.00 157.25 1011.00 159.25 V170.00 Q1011.00 172.00 1009.00 172.00 H957.30 V157.25 Z" fill="#2962FF"/>
<text x="964.75" y="168.40" font-size="10.4" fill="#fff" font-weight="normal" text-anchor="start" textLength="41.25" lengthAdjust="spacingAndGlyphs" stroke="#fff" stroke-width="0.25">2,005.33</text>
<path d="M957.30 142.50 H1009.00 Q1011.00 142.50 1011.00 144.50 V155.10 Q1011.00 157.10 1009.00 157.10 H957.30 V142.50 Z" fill="#F23645"/>
<text x="964.75" y="153.60" font-size="10.4" fill="#fff" font-weight="normal" text-anchor="start" textLength="41.25" lengthAdjust="spacingAndGlyphs" stroke="#fff" stroke-width="0.25">2,008.32</text>
<path d="M913.50 142.50 H956.40 V157.10 H913.50 Q911.50 157.10 911.50 155.10 V144.50 Q911.50 142.50 913.50 142.50 Z" fill="#F23645"/>
<text x="915.60" y="153.60" font-size="10.4" fill="#fff" font-weight="normal" text-anchor="start" textLength="37.50" lengthAdjust="spacingAndGlyphs" stroke="#fff" stroke-width="0.25">ETHUSD</text>
<text x="19.30" y="604.50" font-size="10.0" fill="#131722" font-weight="normal" text-anchor="start" textLength="10.40" lengthAdjust="spacingAndGlyphs" stroke="#131722" stroke-width="0.25">19</text>
<text x="92.30" y="604.50" font-size="10.0" fill="#131722" font-weight="normal" text-anchor="start" textLength="10.40" lengthAdjust="spacingAndGlyphs" stroke="#131722" stroke-width="0.25">20</text>
<text x="165.30" y="604.50" font-size="10.0" fill="#131722" font-weight="normal" text-anchor="start" textLength="10.40" lengthAdjust="spacingAndGlyphs" stroke="#131722" stroke-width="0.25">21</text>
<text x="238.30" y="604.50" font-size="10.0" fill="#131722" font-weight="normal" text-anchor="start" textLength="10.40" lengthAdjust="spacingAndGlyphs" stroke="#131722" stroke-width="0.25">22</text>
<text x="311.30" y="604.50" font-size="10.0" fill="#131722" font-weight="normal" text-anchor="start" textLength="10.40" lengthAdjust="spacingAndGlyphs" stroke="#131722" stroke-width="0.25">23</text>
<text x="384.30" y="604.50" font-size="10.0" fill="#131722" font-weight="normal" text-anchor="start" textLength="10.40" lengthAdjust="spacingAndGlyphs" stroke="#131722" stroke-width="0.25">24</text>
<text x="457.30" y="604.50" font-size="10.0" fill="#131722" font-weight="normal" text-anchor="start" textLength="10.40" lengthAdjust="spacingAndGlyphs" stroke="#131722" stroke-width="0.25">25</text>
<text x="530.30" y="604.50" font-size="10.0" fill="#131722" font-weight="normal" text-anchor="start" textLength="10.40" lengthAdjust="spacingAndGlyphs" stroke="#131722" stroke-width="0.25">26</text>
<text x="603.30" y="604.50" font-size="10.0" fill="#131722" font-weight="normal" text-anchor="start" textLength="10.40" lengthAdjust="spacingAndGlyphs" stroke="#131722" stroke-width="0.25">27</text>
<text x="676.30" y="604.50" font-size="10.0" fill="#131722" font-weight="normal" text-anchor="start" textLength="10.40" lengthAdjust="spacingAndGlyphs" stroke="#131722" stroke-width="0.25">28</text>
<text x="745.60" y="604.50" font-size="10.0" fill="#131722" font-weight="bold" text-anchor="start" textLength="17.80" lengthAdjust="spacingAndGlyphs">Mar</text>
<text x="824.80" y="604.50" font-size="10.0" fill="#131722" font-weight="normal" text-anchor="start" textLength="5.50" lengthAdjust="spacingAndGlyphs" stroke="#131722" stroke-width="0.25">2</text>
<text x="897.80" y="604.50" font-size="10.0" fill="#131722" font-weight="normal" text-anchor="start" textLength="5.50" lengthAdjust="spacingAndGlyphs" stroke="#131722" stroke-width="0.25">3</text>
<rect x="960.5" y="5" width="50.5" height="22" rx="4" fill="#fff" stroke="#EEF0F4" stroke-width="1"/>
<text x="968.40" y="19.80" font-size="10.4" fill="#131722" font-weight="normal" text-anchor="start" textLength="18.20" lengthAdjust="spacingAndGlyphs" stroke="#131722" stroke-width="0.25">USD</text>
<g><circle cx="924.7" cy="576.6" r="11" fill="#fff"/><circle cx="924.7" cy="576.6" r="8.7" fill="none" stroke="#9C27B0" stroke-width="1.4"/><circle cx="930.7" cy="570.7" r="3.6" fill="#fff"/><circle cx="930.7" cy="570.7" r="2.3" fill="#F23645"/><path d="M926.8 572 L921.1 577.1 L924.4 577.1 L922 581.6 L928 576.3 L924.7 576.3 Z" fill="#9C27B0" stroke="#9C27B0" stroke-width="0.5" stroke-linejoin="round"/></g>
<g transform="translate(10.6,629.25) scale(0.74)" fill="#131313"><path d="M14 22H7V11H0V4h14v18zM28 22h-8l7.5-18h8L28 22z"/><circle cx="20" cy="8" r="4"/></g>
<text x="43.75" y="645.30" font-size="18.0" fill="#131313" font-weight="bold" text-anchor="start" textLength="106.50" lengthAdjust="spacingAndGlyphs">TradingView</text>
</svg>
</body></html>
